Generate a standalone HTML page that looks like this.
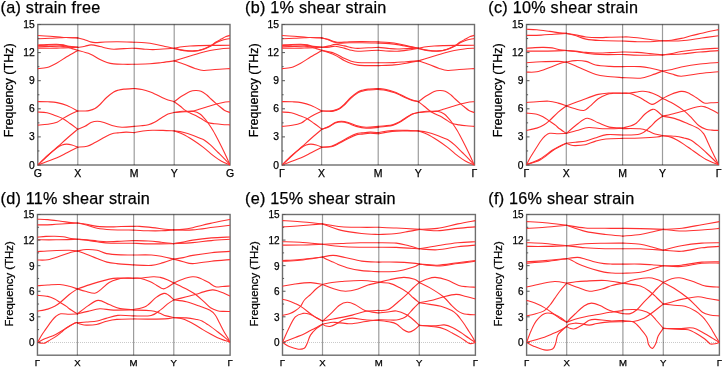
<!DOCTYPE html>
<html><head><meta charset="utf-8"><style>
html,body{margin:0;padding:0;background:#fff;}
svg{display:block;will-change:transform;filter:blur(0.25px);}
text{font-family:"Liberation Sans", sans-serif;fill:#000;stroke:#000;stroke-width:0.25px;}
</style></head><body>
<svg width="725" height="367" viewBox="0 0 725 367">
<rect width="725" height="367" fill="#fff"/>
<clipPath id="cpa"><rect x="37.80" y="23.50" width="192.20" height="142.50"/></clipPath>
<rect x="37.80" y="24.50" width="192.20" height="140.50" fill="none" stroke="#6e6e6e" stroke-width="1.4"/>
<g clip-path="url(#cpa)" fill="none" stroke="#ff3030" stroke-width="1.1" stroke-linejoin="round" stroke-linecap="round">
<path d="M37.80 35.50 C39.83 35.63 46.30 36.03 50.00 36.30 C53.70 36.57 57.33 36.90 60.00 37.10 C62.67 37.30 63.03 37.37 66.00 37.50 C68.97 37.63 75.83 37.83 77.80 37.90"/>
<path d="M37.80 38.80 C39.83 38.72 46.30 38.48 50.00 38.30 C53.70 38.12 57.33 37.83 60.00 37.70 C62.67 37.57 63.03 37.47 66.00 37.50 C68.97 37.53 75.83 37.83 77.80 37.90"/>
<path d="M77.80 38.00 C78.83 38.25 81.97 38.88 84.00 39.50 C86.03 40.12 88.12 41.18 90.00 41.70 C91.88 42.22 92.80 42.55 95.30 42.60 C97.80 42.65 101.22 42.13 105.00 42.00 C108.78 41.87 113.13 41.77 118.00 41.80 C122.87 41.83 131.50 42.13 134.20 42.20"/>
<path d="M134.20 42.20 C136.00 42.30 141.53 42.47 145.00 42.80 C148.47 43.13 151.67 43.58 155.00 44.20 C158.33 44.82 161.80 45.82 165.00 46.50 C168.20 47.18 172.67 48.00 174.20 48.30"/>
<path d="M37.80 45.00 C39.33 44.92 43.85 44.62 47.00 44.50 C50.15 44.38 54.03 44.23 56.70 44.30 C59.37 44.37 60.93 44.55 63.00 44.90 C65.07 45.25 66.63 46.00 69.10 46.40 C71.57 46.80 76.35 47.15 77.80 47.30"/>
<path d="M37.80 45.50 C39.33 45.43 43.85 45.20 47.00 45.10 C50.15 45.00 54.03 44.85 56.70 44.90 C59.37 44.95 60.93 45.08 63.00 45.40 C65.07 45.72 66.63 46.48 69.10 46.80 C71.57 47.12 76.35 47.22 77.80 47.30"/>
<path d="M37.80 46.90 C39.83 46.82 46.30 46.52 50.00 46.40 C53.70 46.28 57.33 46.13 60.00 46.20 C62.67 46.27 64.00 46.40 66.00 46.80 C68.00 47.20 70.03 48.00 72.00 48.60 C73.97 49.20 76.83 50.10 77.80 50.40"/>
<path d="M37.80 48.30 C39.83 48.28 46.30 48.25 50.00 48.20 C53.70 48.15 56.67 48.08 60.00 48.00 C63.33 47.92 67.03 47.82 70.00 47.70 C72.97 47.58 76.50 47.37 77.80 47.30"/>
<path d="M37.80 68.60 C39.33 68.42 43.88 68.40 47.00 67.50 C50.12 66.60 53.22 64.98 56.50 63.20 C59.78 61.42 63.15 58.93 66.70 56.80 C70.25 54.67 75.95 51.47 77.80 50.40"/>
<path d="M77.80 47.40 C79.00 47.20 82.77 46.62 85.00 46.20 C87.23 45.78 88.70 44.85 91.20 44.90 C93.70 44.95 97.37 45.93 100.00 46.50 C102.63 47.07 104.72 47.85 107.00 48.30 C109.28 48.75 110.87 49.15 113.70 49.20 C116.53 49.25 120.58 48.77 124.00 48.60 C127.42 48.43 132.50 48.27 134.20 48.20"/>
<path d="M77.80 50.40 C79.83 51.00 86.30 52.48 90.00 54.00 C93.70 55.52 97.17 58.08 100.00 59.50 C102.83 60.92 104.72 61.77 107.00 62.50 C109.28 63.23 110.87 63.60 113.70 63.90 C116.53 64.20 120.58 64.23 124.00 64.30 C127.42 64.37 132.50 64.30 134.20 64.30"/>
<path d="M134.20 48.20 C136.00 48.37 141.87 48.97 145.00 49.20 C148.13 49.43 150.00 49.63 153.00 49.60 C156.00 49.57 159.47 49.22 163.00 49.00 C166.53 48.78 172.33 48.42 174.20 48.30"/>
<path d="M134.20 64.30 C136.83 64.22 145.37 64.10 150.00 63.80 C154.63 63.50 157.97 62.98 162.00 62.50 C166.03 62.02 172.17 61.17 174.20 60.90"/>
<path d="M174.20 48.40 C175.17 48.17 177.37 47.40 180.00 47.00 C182.63 46.60 186.67 46.23 190.00 46.00 C193.33 45.77 196.50 45.70 200.00 45.60 C203.50 45.50 206.00 45.45 211.00 45.40 C216.00 45.35 226.83 45.32 230.00 45.30"/>
<path d="M174.20 48.40 C175.83 48.72 180.70 49.88 184.00 50.30 C187.30 50.72 190.83 51.08 194.00 50.90 C197.17 50.72 200.17 50.08 203.00 49.20 C205.83 48.32 208.83 46.80 211.00 45.60 C213.17 44.40 214.28 43.08 216.00 42.00 C217.72 40.92 219.63 40.00 221.30 39.10 C222.97 38.20 224.55 37.22 226.00 36.60 C227.45 35.98 229.33 35.60 230.00 35.40"/>
<path d="M174.20 48.40 C175.83 48.77 180.70 50.15 184.00 50.60 C187.30 51.05 190.83 51.30 194.00 51.10 C197.17 50.90 200.17 50.25 203.00 49.40 C205.83 48.55 208.83 47.10 211.00 46.00 C213.17 44.90 214.28 43.70 216.00 42.80 C217.72 41.90 219.63 41.20 221.30 40.60 C222.97 40.00 224.55 39.53 226.00 39.20 C227.45 38.87 229.33 38.70 230.00 38.60"/>
<path d="M174.20 60.90 C175.22 60.58 177.67 59.82 180.30 59.00 C182.93 58.18 186.72 57.00 190.00 56.00 C193.28 55.00 196.67 53.92 200.00 53.00 C203.33 52.08 206.67 51.17 210.00 50.50 C213.33 49.83 216.67 49.38 220.00 49.00 C223.33 48.62 228.33 48.33 230.00 48.20"/>
<path d="M174.20 60.90 C176.00 61.50 181.53 63.23 185.00 64.50 C188.47 65.77 191.90 67.50 195.00 68.50 C198.10 69.50 200.27 70.33 203.60 70.50 C206.93 70.67 210.60 69.82 215.00 69.50 C219.40 69.18 227.50 68.75 230.00 68.60"/>
<path d="M37.80 101.60 C39.50 101.63 44.80 101.63 48.00 101.80 C51.20 101.97 53.83 101.98 57.00 102.60 C60.17 103.22 63.53 104.10 67.00 105.50 C70.47 106.90 76.00 110.08 77.80 111.00"/>
<path d="M37.80 112.00 C39.33 112.13 44.13 112.22 47.00 112.80 C49.87 113.38 52.40 114.53 55.00 115.50 C57.60 116.47 60.10 117.27 62.60 118.60 C65.10 119.93 67.47 121.73 70.00 123.50 C72.53 125.27 76.50 128.25 77.80 129.20"/>
<path d="M37.80 125.10 C39.50 124.97 44.80 124.77 48.00 124.30 C51.20 123.83 54.57 123.25 57.00 122.30 C59.43 121.35 60.43 119.90 62.60 118.60 C64.77 117.30 67.47 115.77 70.00 114.50 C72.53 113.23 76.50 111.58 77.80 111.00"/>
<path d="M37.80 165.00 C39.50 163.42 44.63 158.58 48.00 155.50 C51.37 152.42 54.67 149.50 58.00 146.50 C61.33 143.50 64.70 140.38 68.00 137.50 C71.30 134.62 76.17 130.58 77.80 129.20"/>
<path d="M37.80 165.00 C39.33 163.50 43.90 158.80 47.00 156.00 C50.10 153.20 53.90 150.03 56.40 148.20 C58.90 146.37 60.28 145.68 62.00 145.00 C63.72 144.32 65.03 144.10 66.70 144.10 C68.37 144.10 70.15 144.48 72.00 145.00 C73.85 145.52 76.83 146.83 77.80 147.20"/>
<path d="M37.80 165.00 C39.33 164.42 43.80 162.70 47.00 161.50 C50.20 160.30 53.67 159.25 57.00 157.80 C60.33 156.35 63.53 154.57 67.00 152.80 C70.47 151.03 76.00 148.13 77.80 147.20"/>
<path d="M77.80 111.00 C78.83 111.00 82.13 111.07 84.00 111.00 C85.87 110.93 87.17 111.02 89.00 110.60 C90.83 110.18 93.17 109.52 95.00 108.50 C96.83 107.48 98.07 106.33 100.00 104.50 C101.93 102.67 104.32 99.58 106.60 97.50 C108.88 95.42 111.80 93.22 113.70 92.00 C115.60 90.78 116.30 90.68 118.00 90.20 C119.70 89.72 121.20 89.38 123.90 89.10 C126.60 88.82 132.48 88.60 134.20 88.50"/>
<path d="M77.80 129.20 C79.00 128.72 82.80 127.42 85.00 126.30 C87.20 125.18 88.95 123.35 91.00 122.50 C93.05 121.65 95.13 121.20 97.30 121.20 C99.47 121.20 101.55 121.78 104.00 122.50 C106.45 123.22 109.02 124.72 112.00 125.50 C114.98 126.28 118.20 127.05 121.90 127.20 C125.60 127.35 132.15 126.53 134.20 126.40"/>
<path d="M77.80 147.20 C79.35 147.03 84.23 146.98 87.10 146.20 C89.97 145.42 92.02 144.03 95.00 142.50 C97.98 140.97 102.17 138.45 105.00 137.00 C107.83 135.55 109.87 134.48 112.00 133.80 C114.13 133.12 115.47 133.18 117.80 132.90 C120.13 132.62 123.27 132.15 126.00 132.10 C128.73 132.05 132.83 132.52 134.20 132.60"/>
<path d="M134.20 88.50 C135.50 88.67 139.30 88.92 142.00 89.50 C144.70 90.08 148.07 91.17 150.40 92.00 C152.73 92.83 154.07 93.58 156.00 94.50 C157.93 95.42 160.00 96.58 162.00 97.50 C164.00 98.42 165.97 99.32 168.00 100.00 C170.03 100.68 173.17 101.33 174.20 101.60"/>
<path d="M134.20 126.40 C135.33 126.30 138.63 126.08 141.00 125.80 C143.37 125.52 146.07 125.33 148.40 124.70 C150.73 124.07 152.73 123.20 155.00 122.00 C157.27 120.80 159.83 118.83 162.00 117.50 C164.17 116.17 165.97 114.85 168.00 114.00 C170.03 113.15 173.17 112.67 174.20 112.40"/>
<path d="M134.20 132.60 C135.67 132.33 139.97 131.40 143.00 131.00 C146.03 130.60 149.07 130.30 152.40 130.20 C155.73 130.10 159.37 130.28 163.00 130.40 C166.63 130.52 172.33 130.82 174.20 130.90"/>
<path d="M174.20 101.80 C175.00 101.17 177.42 99.13 179.00 98.00 C180.58 96.87 181.87 96.08 183.70 95.00 C185.53 93.92 188.05 92.25 190.00 91.50 C191.95 90.75 193.57 90.55 195.40 90.50 C197.23 90.45 199.10 90.45 201.00 91.20 C202.90 91.95 205.13 93.70 206.80 95.00 C208.47 96.30 209.43 97.57 211.00 99.00 C212.57 100.43 214.70 102.30 216.20 103.60 C217.70 104.90 218.58 105.67 220.00 106.80 C221.42 107.93 223.03 109.45 224.70 110.40 C226.37 111.35 229.12 112.15 230.00 112.50"/>
<path d="M174.20 101.80 C175.17 102.50 178.13 104.57 180.00 106.00 C181.87 107.43 183.73 109.23 185.40 110.40 C187.07 111.57 188.28 112.15 190.00 113.00 C191.72 113.85 193.87 114.58 195.70 115.50 C197.53 116.42 199.02 117.35 201.00 118.50 C202.98 119.65 205.27 121.52 207.60 122.40 C209.93 123.28 212.60 123.45 215.00 123.80 C217.40 124.15 219.50 124.32 222.00 124.50 C224.50 124.68 228.67 124.83 230.00 124.90"/>
<path d="M174.20 112.50 C175.63 112.30 179.65 111.53 182.80 111.30 C185.95 111.07 190.23 111.48 193.10 111.10 C195.97 110.72 197.52 109.77 200.00 109.00 C202.48 108.23 205.30 107.33 208.00 106.50 C210.70 105.67 213.70 104.67 216.20 104.00 C218.70 103.33 220.70 102.88 223.00 102.50 C225.30 102.12 228.83 101.83 230.00 101.70"/>
<path d="M174.20 112.50 C176.00 112.38 181.70 111.97 185.00 111.80 C188.30 111.63 191.50 111.13 194.00 111.50 C196.50 111.87 198.30 112.90 200.00 114.00 C201.70 115.10 202.92 116.68 204.20 118.10 C205.48 119.52 206.23 120.43 207.70 122.50 C209.17 124.57 211.13 127.33 213.00 130.50 C214.87 133.67 216.97 137.75 218.90 141.50 C220.83 145.25 222.75 149.12 224.60 153.00 C226.45 156.88 229.10 162.83 230.00 164.80"/>
<path d="M174.20 130.90 C175.67 131.13 179.82 131.55 183.00 132.30 C186.18 133.05 190.47 134.42 193.30 135.40 C196.13 136.38 198.08 137.35 200.00 138.20 C201.92 139.05 203.02 139.33 204.80 140.50 C206.58 141.67 208.48 143.20 210.70 145.20 C212.92 147.20 215.88 150.30 218.10 152.50 C220.32 154.70 222.02 156.35 224.00 158.40 C225.98 160.45 229.00 163.73 230.00 164.80"/>
<path d="M174.20 130.90 C175.68 131.45 179.92 132.63 183.10 134.20 C186.28 135.77 189.92 138.10 193.30 140.30 C196.68 142.50 200.50 145.18 203.40 147.40 C206.30 149.62 208.25 151.65 210.70 153.60 C213.15 155.55 215.88 157.62 218.10 159.10 C220.32 160.58 222.02 161.55 224.00 162.50 C225.98 163.45 229.00 164.42 230.00 164.80"/>
</g>
<line x1="77.80" y1="24.50" x2="77.80" y2="165.00" stroke="#9c9c9c" stroke-width="1.2" style="mix-blend-mode:multiply"/>
<line x1="134.20" y1="24.50" x2="134.20" y2="165.00" stroke="#9c9c9c" stroke-width="1.2" style="mix-blend-mode:multiply"/>
<line x1="174.20" y1="24.50" x2="174.20" y2="165.00" stroke="#9c9c9c" stroke-width="1.2" style="mix-blend-mode:multiply"/>
<line x1="37.80" y1="165.00" x2="40.80" y2="165.00" stroke="#555" stroke-width="1"/>
<text x="34.80" y="168.50" font-size="10.3" text-anchor="end">0</text>
<line x1="37.80" y1="150.95" x2="39.40" y2="150.95" stroke="#555" stroke-width="1"/>
<line x1="37.80" y1="136.90" x2="40.80" y2="136.90" stroke="#555" stroke-width="1"/>
<text x="34.80" y="140.40" font-size="10.3" text-anchor="end">3</text>
<line x1="37.80" y1="122.85" x2="39.40" y2="122.85" stroke="#555" stroke-width="1"/>
<line x1="37.80" y1="108.80" x2="40.80" y2="108.80" stroke="#555" stroke-width="1"/>
<text x="34.80" y="112.30" font-size="10.3" text-anchor="end">6</text>
<line x1="37.80" y1="94.75" x2="39.40" y2="94.75" stroke="#555" stroke-width="1"/>
<line x1="37.80" y1="80.70" x2="40.80" y2="80.70" stroke="#555" stroke-width="1"/>
<text x="34.80" y="84.20" font-size="10.3" text-anchor="end">9</text>
<line x1="37.80" y1="66.65" x2="39.40" y2="66.65" stroke="#555" stroke-width="1"/>
<line x1="37.80" y1="52.60" x2="40.80" y2="52.60" stroke="#555" stroke-width="1"/>
<text x="34.80" y="56.10" font-size="10.3" text-anchor="end">12</text>
<line x1="37.80" y1="38.55" x2="39.40" y2="38.55" stroke="#555" stroke-width="1"/>
<line x1="37.80" y1="24.50" x2="40.80" y2="24.50" stroke="#555" stroke-width="1"/>
<text x="34.80" y="28.00" font-size="10.3" text-anchor="end">15</text>
<text x="37.80" y="176.80" font-size="10.5" text-anchor="middle">G</text>
<text x="77.80" y="176.80" font-size="10.5" text-anchor="middle">X</text>
<text x="134.20" y="176.80" font-size="10.5" text-anchor="middle">M</text>
<text x="174.20" y="176.80" font-size="10.5" text-anchor="middle">Y</text>
<text x="230.00" y="176.80" font-size="10.5" text-anchor="middle">G</text>
<text transform="translate(13.30 90.30) rotate(-90)" font-size="12.5" text-anchor="middle">Frequency (THz)</text>
<text x="0.50" y="13.30" font-size="16.2" letter-spacing="0.25">(a) strain free</text>
<clipPath id="cpb"><rect x="282.00" y="23.50" width="192.50" height="142.50"/></clipPath>
<rect x="282.00" y="24.50" width="192.50" height="140.50" fill="none" stroke="#6e6e6e" stroke-width="1.4"/>
<g clip-path="url(#cpb)" fill="none" stroke="#ff3030" stroke-width="1.1" stroke-linejoin="round" stroke-linecap="round">
<path d="M282.00 35.50 C284.03 35.63 290.50 36.03 294.20 36.30 C297.90 36.57 301.53 36.90 304.20 37.10 C306.87 37.30 307.23 37.37 310.20 37.50 C313.17 37.63 320.03 37.83 322.00 37.90"/>
<path d="M282.00 38.80 C284.03 38.72 290.50 38.48 294.20 38.30 C297.90 38.12 301.53 37.83 304.20 37.70 C306.87 37.57 307.23 37.47 310.20 37.50 C313.17 37.53 320.03 37.83 322.00 37.90"/>
<path d="M322.00 38.00 C323.03 38.23 326.17 38.82 328.20 39.40 C330.23 39.98 332.32 41.00 334.20 41.50 C336.08 42.00 337.00 42.37 339.50 42.40 C342.00 42.43 345.42 41.85 349.20 41.70 C352.98 41.55 357.33 41.47 362.20 41.50 C367.07 41.53 375.70 41.83 378.40 41.90"/>
<path d="M378.40 41.90 C380.20 42.00 385.73 42.15 389.20 42.50 C392.67 42.85 395.87 43.35 399.20 44.00 C402.53 44.65 406.00 45.68 409.20 46.40 C412.40 47.12 416.87 47.98 418.40 48.30"/>
<path d="M322.00 38.00 C323.03 38.30 326.17 39.10 328.20 39.80 C330.23 40.50 332.32 41.63 334.20 42.20 C336.08 42.77 337.00 43.10 339.50 43.20 C342.00 43.30 345.42 42.88 349.20 42.80 C352.98 42.72 357.33 42.65 362.20 42.70 C367.07 42.75 375.70 43.03 378.40 43.10"/>
<path d="M378.40 43.10 C380.20 43.18 385.73 43.30 389.20 43.60 C392.67 43.90 395.87 44.35 399.20 44.90 C402.53 45.45 406.00 46.33 409.20 46.90 C412.40 47.47 416.87 48.07 418.40 48.30"/>
<path d="M282.00 45.00 C283.53 44.92 288.05 44.62 291.20 44.50 C294.35 44.38 298.23 44.23 300.90 44.30 C303.57 44.37 305.13 44.55 307.20 44.90 C309.27 45.25 310.83 46.00 313.30 46.40 C315.77 46.80 320.55 47.15 322.00 47.30"/>
<path d="M282.00 45.50 C283.53 45.43 288.05 45.20 291.20 45.10 C294.35 45.00 298.23 44.85 300.90 44.90 C303.57 44.95 305.13 45.08 307.20 45.40 C309.27 45.72 310.83 46.48 313.30 46.80 C315.77 47.12 320.55 47.22 322.00 47.30"/>
<path d="M282.00 46.90 C284.03 46.82 290.50 46.52 294.20 46.40 C297.90 46.28 301.53 46.13 304.20 46.20 C306.87 46.27 308.20 46.40 310.20 46.80 C312.20 47.20 314.23 48.00 316.20 48.60 C318.17 49.20 321.03 50.10 322.00 50.40"/>
<path d="M282.00 48.30 C284.03 48.28 290.50 48.25 294.20 48.20 C297.90 48.15 300.87 48.08 304.20 48.00 C307.53 47.92 311.23 47.82 314.20 47.70 C317.17 47.58 320.70 47.37 322.00 47.30"/>
<path d="M282.00 68.60 C283.53 68.42 288.08 68.40 291.20 67.50 C294.32 66.60 297.42 64.98 300.70 63.20 C303.98 61.42 307.35 58.93 310.90 56.80 C314.45 54.67 320.15 51.47 322.00 50.40"/>
<path d="M322.00 47.40 C323.20 47.15 326.97 46.40 329.20 45.90 C331.43 45.40 332.90 44.40 335.40 44.40 C337.90 44.40 341.57 45.37 344.20 45.90 C346.83 46.43 348.92 47.18 351.20 47.60 C353.48 48.02 355.07 48.37 357.90 48.40 C360.73 48.43 364.78 47.97 368.20 47.80 C371.62 47.63 376.70 47.47 378.40 47.40"/>
<path d="M322.00 47.40 C323.20 47.35 326.97 47.30 329.20 47.10 C331.43 46.90 332.90 46.03 335.40 46.20 C337.90 46.37 341.57 47.43 344.20 48.10 C346.83 48.77 348.92 49.68 351.20 50.20 C353.48 50.72 355.07 51.12 357.90 51.20 C360.73 51.28 364.78 50.85 368.20 50.70 C371.62 50.55 376.70 50.37 378.40 50.30"/>
<path d="M322.00 50.40 C324.03 50.87 330.50 51.88 334.20 53.20 C337.90 54.52 341.37 56.97 344.20 58.30 C347.03 59.63 348.92 60.50 351.20 61.20 C353.48 61.90 355.07 62.23 357.90 62.50 C360.73 62.77 364.78 62.75 368.20 62.80 C371.62 62.85 376.70 62.80 378.40 62.80"/>
<path d="M322.00 50.40 C324.03 51.12 330.50 53.02 334.20 54.70 C337.90 56.38 341.37 59.02 344.20 60.50 C347.03 61.98 348.92 62.83 351.20 63.60 C353.48 64.37 355.07 64.77 357.90 65.10 C360.73 65.43 364.78 65.52 368.20 65.60 C371.62 65.68 376.70 65.60 378.40 65.60"/>
<path d="M378.40 47.40 C380.20 47.58 386.07 48.23 389.20 48.50 C392.33 48.77 394.20 48.98 397.20 49.00 C400.20 49.02 403.67 48.72 407.20 48.60 C410.73 48.48 416.53 48.35 418.40 48.30"/>
<path d="M378.40 50.30 C380.20 50.43 386.07 50.95 389.20 51.10 C392.33 51.25 394.20 51.37 397.20 51.20 C400.20 51.03 403.67 50.58 407.20 50.10 C410.73 49.62 416.53 48.60 418.40 48.30"/>
<path d="M378.40 62.80 C381.03 62.77 389.57 62.78 394.20 62.60 C398.83 62.42 402.17 61.98 406.20 61.70 C410.23 61.42 416.37 61.03 418.40 60.90"/>
<path d="M378.40 65.60 C381.03 65.48 389.57 65.30 394.20 64.90 C398.83 64.50 402.17 63.87 406.20 63.20 C410.23 62.53 416.37 61.28 418.40 60.90"/>
<path d="M418.40 48.40 C419.37 48.17 421.57 47.40 424.20 47.00 C426.83 46.60 430.87 46.23 434.20 46.00 C437.53 45.77 440.70 45.70 444.20 45.60 C447.70 45.50 450.20 45.45 455.20 45.40 C460.20 45.35 471.03 45.32 474.20 45.30"/>
<path d="M418.40 48.40 C420.03 48.72 424.90 49.88 428.20 50.30 C431.50 50.72 435.03 51.08 438.20 50.90 C441.37 50.72 444.37 50.08 447.20 49.20 C450.03 48.32 453.03 46.80 455.20 45.60 C457.37 44.40 458.48 43.08 460.20 42.00 C461.92 40.92 463.83 40.00 465.50 39.10 C467.17 38.20 468.75 37.22 470.20 36.60 C471.65 35.98 473.53 35.60 474.20 35.40"/>
<path d="M418.40 48.40 C420.03 48.77 424.90 50.15 428.20 50.60 C431.50 51.05 435.03 51.30 438.20 51.10 C441.37 50.90 444.37 50.25 447.20 49.40 C450.03 48.55 453.03 47.10 455.20 46.00 C457.37 44.90 458.48 43.70 460.20 42.80 C461.92 41.90 463.83 41.20 465.50 40.60 C467.17 40.00 468.75 39.53 470.20 39.20 C471.65 38.87 473.53 38.70 474.20 38.60"/>
<path d="M418.40 60.90 C419.42 60.58 421.87 59.82 424.50 59.00 C427.13 58.18 430.92 57.00 434.20 56.00 C437.48 55.00 440.87 53.92 444.20 53.00 C447.53 52.08 450.87 51.17 454.20 50.50 C457.53 49.83 460.87 49.38 464.20 49.00 C467.53 48.62 472.53 48.33 474.20 48.20"/>
<path d="M418.40 60.90 C420.20 61.50 425.73 63.23 429.20 64.50 C432.67 65.77 436.10 67.50 439.20 68.50 C442.30 69.50 444.47 70.33 447.80 70.50 C451.13 70.67 454.80 69.82 459.20 69.50 C463.60 69.18 471.70 68.75 474.20 68.60"/>
<path d="M282.00 101.60 C283.70 101.63 289.00 101.63 292.20 101.80 C295.40 101.97 298.03 101.98 301.20 102.60 C304.37 103.22 307.73 104.10 311.20 105.50 C314.67 106.90 320.20 110.08 322.00 111.00"/>
<path d="M282.00 112.00 C283.53 112.13 288.33 112.22 291.20 112.80 C294.07 113.38 296.60 114.53 299.20 115.50 C301.80 116.47 304.30 117.27 306.80 118.60 C309.30 119.93 311.67 121.73 314.20 123.50 C316.73 125.27 320.70 128.25 322.00 129.20"/>
<path d="M282.00 126.40 C283.70 126.22 289.00 125.87 292.20 125.30 C295.40 124.73 298.77 124.03 301.20 123.00 C303.63 121.97 304.63 120.47 306.80 119.10 C308.97 117.73 311.67 116.15 314.20 114.80 C316.73 113.45 320.70 111.63 322.00 111.00"/>
<path d="M282.00 165.00 C283.70 163.42 288.83 158.58 292.20 155.50 C295.57 152.42 298.87 149.50 302.20 146.50 C305.53 143.50 308.90 140.38 312.20 137.50 C315.50 134.62 320.37 130.58 322.00 129.20"/>
<path d="M282.00 165.00 C283.53 163.50 288.10 158.80 291.20 156.00 C294.30 153.20 298.10 150.03 300.60 148.20 C303.10 146.37 304.48 145.68 306.20 145.00 C307.92 144.32 309.23 144.10 310.90 144.10 C312.57 144.10 314.35 144.48 316.20 145.00 C318.05 145.52 321.03 146.83 322.00 147.20"/>
<path d="M282.00 165.00 C283.53 164.42 288.00 162.70 291.20 161.50 C294.40 160.30 297.87 159.25 301.20 157.80 C304.53 156.35 307.73 154.57 311.20 152.80 C314.67 151.03 320.20 148.13 322.00 147.20"/>
<path d="M322.00 111.00 C323.03 111.00 326.33 111.07 328.20 111.00 C330.07 110.93 331.37 111.02 333.20 110.60 C335.03 110.18 337.37 109.52 339.20 108.50 C341.03 107.48 342.27 106.33 344.20 104.50 C346.13 102.67 348.52 99.58 350.80 97.50 C353.08 95.42 356.00 93.22 357.90 92.00 C359.80 90.78 360.50 90.68 362.20 90.20 C363.90 89.72 365.40 89.38 368.10 89.10 C370.80 88.82 376.68 88.60 378.40 88.50"/>
<path d="M322.00 111.00 C323.03 111.05 326.33 111.28 328.20 111.30 C330.07 111.32 331.37 111.47 333.20 111.10 C335.03 110.73 337.37 110.08 339.20 109.10 C341.03 108.12 342.27 107.00 344.20 105.20 C346.13 103.40 348.52 100.35 350.80 98.30 C353.08 96.25 356.00 94.10 357.90 92.90 C359.80 91.70 360.50 91.58 362.20 91.10 C363.90 90.62 365.40 90.28 368.10 90.00 C370.80 89.72 376.68 89.50 378.40 89.40"/>
<path d="M322.00 129.20 C323.20 128.72 327.00 127.42 329.20 126.30 C331.40 125.18 333.15 123.35 335.20 122.50 C337.25 121.65 339.33 121.20 341.50 121.20 C343.67 121.20 345.75 121.78 348.20 122.50 C350.65 123.22 353.22 124.72 356.20 125.50 C359.18 126.28 362.40 127.05 366.10 127.20 C369.80 127.35 376.35 126.53 378.40 126.40"/>
<path d="M322.00 129.20 C323.20 128.78 327.00 127.72 329.20 126.70 C331.40 125.68 333.15 123.90 335.20 123.10 C337.25 122.30 339.33 121.87 341.50 121.90 C343.67 121.93 345.75 122.55 348.20 123.30 C350.65 124.05 353.22 125.58 356.20 126.40 C359.18 127.22 362.40 128.03 366.10 128.20 C369.80 128.37 376.35 127.53 378.40 127.40"/>
<path d="M322.00 147.20 C323.55 147.03 328.43 146.98 331.30 146.20 C334.17 145.42 336.22 144.03 339.20 142.50 C342.18 140.97 346.37 138.45 349.20 137.00 C352.03 135.55 354.07 134.48 356.20 133.80 C358.33 133.12 359.67 133.18 362.00 132.90 C364.33 132.62 367.47 132.15 370.20 132.10 C372.93 132.05 377.03 132.52 378.40 132.60"/>
<path d="M322.00 147.20 C323.55 147.13 328.43 147.45 331.30 146.80 C334.17 146.15 336.22 144.77 339.20 143.30 C342.18 141.83 346.37 139.40 349.20 138.00 C352.03 136.60 354.07 135.55 356.20 134.90 C358.33 134.25 359.67 134.37 362.00 134.10 C364.33 133.83 367.47 133.35 370.20 133.30 C372.93 133.25 377.03 133.72 378.40 133.80"/>
<path d="M378.40 88.50 C379.70 88.67 383.50 88.92 386.20 89.50 C388.90 90.08 392.27 91.17 394.60 92.00 C396.93 92.83 398.27 93.58 400.20 94.50 C402.13 95.42 404.20 96.58 406.20 97.50 C408.20 98.42 410.17 99.32 412.20 100.00 C414.23 100.68 417.37 101.33 418.40 101.60"/>
<path d="M378.40 89.50 C379.70 89.65 383.50 89.85 386.20 90.40 C388.90 90.95 392.27 92.00 394.60 92.80 C396.93 93.60 398.27 94.32 400.20 95.20 C402.13 96.08 404.20 97.23 406.20 98.10 C408.20 98.97 410.17 99.82 412.20 100.40 C414.23 100.98 417.37 101.40 418.40 101.60"/>
<path d="M378.40 126.40 C379.53 126.30 382.83 126.08 385.20 125.80 C387.57 125.52 390.27 125.33 392.60 124.70 C394.93 124.07 396.93 123.20 399.20 122.00 C401.47 120.80 404.03 118.83 406.20 117.50 C408.37 116.17 410.17 114.85 412.20 114.00 C414.23 113.15 417.37 112.67 418.40 112.40"/>
<path d="M378.40 127.20 C379.53 127.08 382.83 126.80 385.20 126.50 C387.57 126.20 390.27 126.05 392.60 125.40 C394.93 124.75 396.93 123.83 399.20 122.60 C401.47 121.37 404.03 119.38 406.20 118.00 C408.37 116.62 410.17 115.23 412.20 114.30 C414.23 113.37 417.37 112.72 418.40 112.40"/>
<path d="M378.40 132.60 C379.87 132.33 384.17 131.40 387.20 131.00 C390.23 130.60 393.27 130.30 396.60 130.20 C399.93 130.10 403.57 130.28 407.20 130.40 C410.83 130.52 416.53 130.82 418.40 130.90"/>
<path d="M378.40 133.80 C379.87 133.52 384.17 132.55 387.20 132.10 C390.23 131.65 393.27 131.28 396.60 131.10 C399.93 130.92 403.57 131.03 407.20 131.00 C410.83 130.97 416.53 130.92 418.40 130.90"/>
<path d="M418.40 101.80 C419.20 101.17 421.62 99.13 423.20 98.00 C424.78 96.87 426.07 96.08 427.90 95.00 C429.73 93.92 432.25 92.25 434.20 91.50 C436.15 90.75 437.77 90.55 439.60 90.50 C441.43 90.45 443.30 90.45 445.20 91.20 C447.10 91.95 449.33 93.70 451.00 95.00 C452.67 96.30 453.63 97.57 455.20 99.00 C456.77 100.43 458.90 102.30 460.40 103.60 C461.90 104.90 462.78 105.67 464.20 106.80 C465.62 107.93 467.23 109.45 468.90 110.40 C470.57 111.35 473.32 112.15 474.20 112.50"/>
<path d="M418.40 101.80 C419.37 102.53 422.33 104.72 424.20 106.20 C426.07 107.68 427.93 109.50 429.60 110.70 C431.27 111.90 432.48 112.50 434.20 113.40 C435.92 114.30 438.07 115.13 439.90 116.10 C441.73 117.07 443.22 118.00 445.20 119.20 C447.18 120.40 449.47 122.35 451.80 123.30 C454.13 124.25 456.80 124.48 459.20 124.90 C461.60 125.32 463.70 125.55 466.20 125.80 C468.70 126.05 472.87 126.30 474.20 126.40"/>
<path d="M418.40 112.50 C419.83 112.30 423.85 111.53 427.00 111.30 C430.15 111.07 434.43 111.48 437.30 111.10 C440.17 110.72 441.72 109.77 444.20 109.00 C446.68 108.23 449.50 107.33 452.20 106.50 C454.90 105.67 457.90 104.67 460.40 104.00 C462.90 103.33 464.90 102.88 467.20 102.50 C469.50 102.12 473.03 101.83 474.20 101.70"/>
<path d="M418.40 112.50 C420.20 112.38 425.90 111.97 429.20 111.80 C432.50 111.63 435.70 111.13 438.20 111.50 C440.70 111.87 442.50 112.90 444.20 114.00 C445.90 115.10 447.12 116.68 448.40 118.10 C449.68 119.52 450.43 120.43 451.90 122.50 C453.37 124.57 455.33 127.33 457.20 130.50 C459.07 133.67 461.17 137.75 463.10 141.50 C465.03 145.25 466.95 149.12 468.80 153.00 C470.65 156.88 473.30 162.83 474.20 164.80"/>
<path d="M418.40 130.90 C419.87 131.13 424.02 131.55 427.20 132.30 C430.38 133.05 434.67 134.42 437.50 135.40 C440.33 136.38 442.28 137.35 444.20 138.20 C446.12 139.05 447.22 139.33 449.00 140.50 C450.78 141.67 452.68 143.20 454.90 145.20 C457.12 147.20 460.08 150.30 462.30 152.50 C464.52 154.70 466.22 156.35 468.20 158.40 C470.18 160.45 473.20 163.73 474.20 164.80"/>
<path d="M418.40 130.90 C419.88 131.45 424.12 132.63 427.30 134.20 C430.48 135.77 434.12 138.10 437.50 140.30 C440.88 142.50 444.70 145.18 447.60 147.40 C450.50 149.62 452.45 151.65 454.90 153.60 C457.35 155.55 460.08 157.62 462.30 159.10 C464.52 160.58 466.22 161.55 468.20 162.50 C470.18 163.45 473.20 164.42 474.20 164.80"/>
</g>
<line x1="321.60" y1="24.50" x2="321.60" y2="165.00" stroke="#9c9c9c" stroke-width="1.2" style="mix-blend-mode:multiply"/>
<line x1="378.20" y1="24.50" x2="378.20" y2="165.00" stroke="#9c9c9c" stroke-width="1.2" style="mix-blend-mode:multiply"/>
<line x1="418.30" y1="24.50" x2="418.30" y2="165.00" stroke="#9c9c9c" stroke-width="1.2" style="mix-blend-mode:multiply"/>
<line x1="282.00" y1="165.00" x2="285.00" y2="165.00" stroke="#555" stroke-width="1"/>
<text x="279.00" y="168.50" font-size="10.3" text-anchor="end">0</text>
<line x1="282.00" y1="150.95" x2="283.60" y2="150.95" stroke="#555" stroke-width="1"/>
<line x1="282.00" y1="136.90" x2="285.00" y2="136.90" stroke="#555" stroke-width="1"/>
<text x="279.00" y="140.40" font-size="10.3" text-anchor="end">3</text>
<line x1="282.00" y1="122.85" x2="283.60" y2="122.85" stroke="#555" stroke-width="1"/>
<line x1="282.00" y1="108.80" x2="285.00" y2="108.80" stroke="#555" stroke-width="1"/>
<text x="279.00" y="112.30" font-size="10.3" text-anchor="end">6</text>
<line x1="282.00" y1="94.75" x2="283.60" y2="94.75" stroke="#555" stroke-width="1"/>
<line x1="282.00" y1="80.70" x2="285.00" y2="80.70" stroke="#555" stroke-width="1"/>
<text x="279.00" y="84.20" font-size="10.3" text-anchor="end">9</text>
<line x1="282.00" y1="66.65" x2="283.60" y2="66.65" stroke="#555" stroke-width="1"/>
<line x1="282.00" y1="52.60" x2="285.00" y2="52.60" stroke="#555" stroke-width="1"/>
<text x="279.00" y="56.10" font-size="10.3" text-anchor="end">12</text>
<line x1="282.00" y1="38.55" x2="283.60" y2="38.55" stroke="#555" stroke-width="1"/>
<line x1="282.00" y1="24.50" x2="285.00" y2="24.50" stroke="#555" stroke-width="1"/>
<text x="279.00" y="28.00" font-size="10.3" text-anchor="end">15</text>
<text x="282.00" y="176.80" font-size="10.5" text-anchor="middle">Γ</text>
<text x="321.60" y="176.80" font-size="10.5" text-anchor="middle">X</text>
<text x="378.20" y="176.80" font-size="10.5" text-anchor="middle">M</text>
<text x="418.30" y="176.80" font-size="10.5" text-anchor="middle">Y</text>
<text x="474.50" y="176.80" font-size="10.5" text-anchor="middle">Γ</text>
<text transform="translate(257.50 90.30) rotate(-90)" font-size="12.5" text-anchor="middle">Frequency (THz)</text>
<text x="245.00" y="13.30" font-size="16.2" letter-spacing="0.25">(b) 1% shear strain</text>
<clipPath id="cpc"><rect x="526.50" y="23.50" width="192.10" height="142.50"/></clipPath>
<rect x="526.50" y="24.50" width="192.10" height="140.50" fill="none" stroke="#6e6e6e" stroke-width="1.4"/>
<g clip-path="url(#cpc)" fill="none" stroke="#ff3030" stroke-width="1.1" stroke-linejoin="round" stroke-linecap="round">
<path d="M526.60 29.30 C528.30 29.37 532.95 29.35 536.80 29.70 C540.65 30.05 545.85 30.87 549.70 31.40 C553.55 31.93 557.13 32.57 559.90 32.90 C562.67 33.23 565.23 33.32 566.30 33.40"/>
<path d="M566.30 33.40 C567.80 33.63 572.02 34.20 575.30 34.80 C578.58 35.40 581.88 36.53 586.00 37.00 C590.12 37.47 596.00 37.57 600.00 37.60 C604.00 37.63 606.23 37.30 610.00 37.20 C613.77 37.10 620.50 37.03 622.60 37.00"/>
<path d="M622.60 37.00 C623.60 37.00 625.47 36.78 628.60 37.00 C631.73 37.22 637.13 37.80 641.40 38.30 C645.67 38.80 650.72 39.58 654.20 40.00 C657.68 40.42 660.95 40.67 662.30 40.80"/>
<path d="M662.30 40.80 C663.80 40.70 668.13 40.60 671.30 40.20 C674.47 39.80 678.02 39.13 681.30 38.40 C684.58 37.67 687.58 36.67 691.00 35.80 C694.42 34.93 698.63 33.97 701.80 33.20 C704.97 32.43 707.20 31.80 710.00 31.20 C712.80 30.60 717.17 29.87 718.60 29.60"/>
<path d="M526.60 35.40 C529.02 35.35 536.55 35.30 541.10 35.10 C545.65 34.90 549.70 34.48 553.90 34.20 C558.10 33.92 564.23 33.53 566.30 33.40"/>
<path d="M566.30 33.40 C567.80 33.75 572.02 34.55 575.30 35.50 C578.58 36.45 581.88 38.27 586.00 39.10 C590.12 39.93 593.90 40.18 600.00 40.50 C606.10 40.82 618.83 40.92 622.60 41.00"/>
<path d="M622.60 41.00 C625.02 41.12 632.53 41.58 637.10 41.70 C641.67 41.82 645.80 41.85 650.00 41.70 C654.20 41.55 660.25 40.95 662.30 40.80"/>
<path d="M662.30 40.80 C665.47 40.80 674.72 41.27 681.30 40.80 C687.88 40.33 695.58 38.85 701.80 38.00 C708.02 37.15 715.80 36.08 718.60 35.70"/>
<path d="M526.60 48.30 C528.00 48.18 532.15 47.75 535.00 47.60 C537.85 47.45 540.83 47.35 543.70 47.40 C546.57 47.45 549.50 47.50 552.20 47.90 C554.90 48.30 557.55 49.37 559.90 49.80 C562.25 50.23 565.23 50.38 566.30 50.50"/>
<path d="M566.30 50.50 C567.80 50.60 572.02 50.78 575.30 51.10 C578.58 51.42 582.62 52.07 586.00 52.40 C589.38 52.73 591.60 53.07 595.60 53.10 C599.60 53.13 605.50 52.78 610.00 52.60 C614.50 52.42 620.50 52.10 622.60 52.00"/>
<path d="M622.60 52.00 C625.02 52.07 632.53 52.13 637.10 52.40 C641.67 52.67 645.80 53.18 650.00 53.60 C654.20 54.02 660.25 54.68 662.30 54.90"/>
<path d="M662.30 54.90 C663.92 54.67 668.83 54.07 672.00 53.50 C675.17 52.93 676.63 52.22 681.30 51.50 C685.97 50.78 693.78 49.75 700.00 49.20 C706.22 48.65 715.50 48.37 718.60 48.20"/>
<path d="M526.60 51.10 C529.67 51.10 538.38 51.20 545.00 51.10 C551.62 51.00 562.75 50.60 566.30 50.50"/>
<path d="M566.30 50.50 C567.80 50.67 572.02 51.05 575.30 51.50 C578.58 51.95 581.88 52.70 586.00 53.20 C590.12 53.70 593.90 54.28 600.00 54.50 C606.10 54.72 618.83 54.50 622.60 54.50"/>
<path d="M622.60 54.50 C625.50 54.62 633.38 55.13 640.00 55.20 C646.62 55.27 658.58 54.95 662.30 54.90"/>
<path d="M662.30 54.90 C665.47 54.75 675.02 54.48 681.30 54.00 C687.58 53.52 693.78 52.57 700.00 52.00 C706.22 51.43 715.50 50.83 718.60 50.60"/>
<path d="M526.60 62.70 C529.02 62.55 535.83 62.02 541.10 61.80 C546.37 61.58 554.00 61.35 558.20 61.40 C562.40 61.45 564.95 61.98 566.30 62.10"/>
<path d="M566.30 62.10 C567.80 61.85 572.02 60.72 575.30 60.60 C578.58 60.48 582.62 60.67 586.00 61.40 C589.38 62.13 591.60 64.17 595.60 65.00 C599.60 65.83 605.50 66.13 610.00 66.40 C614.50 66.67 620.50 66.57 622.60 66.60"/>
<path d="M622.60 66.60 C625.57 66.60 635.50 66.28 640.40 66.60 C645.30 66.92 648.32 67.75 652.00 68.50 C655.68 69.25 660.75 70.67 662.50 71.10"/>
<path d="M662.50 71.10 C664.08 70.83 668.87 70.18 672.00 69.50 C675.13 68.82 676.63 67.92 681.30 67.00 C685.97 66.08 693.78 64.75 700.00 64.00 C706.22 63.25 715.50 62.75 718.60 62.50"/>
<path d="M526.60 72.10 C528.30 72.05 532.95 72.58 536.80 71.80 C540.65 71.02 545.85 68.78 549.70 67.40 C553.55 66.02 557.13 64.38 559.90 63.50 C562.67 62.62 565.23 62.33 566.30 62.10"/>
<path d="M566.30 62.10 C567.80 62.70 572.02 64.28 575.30 65.70 C578.58 67.12 582.55 69.13 586.00 70.60 C589.45 72.07 592.70 73.57 596.00 74.50 C599.30 75.43 601.37 75.68 605.80 76.20 C610.23 76.72 619.80 77.37 622.60 77.60"/>
<path d="M622.60 77.60 C625.57 77.70 635.50 78.63 640.40 78.20 C645.30 77.77 648.32 76.18 652.00 75.00 C655.68 73.82 660.75 71.75 662.50 71.10"/>
<path d="M662.50 71.10 C664.08 71.58 668.87 73.15 672.00 74.00 C675.13 74.85 676.63 76.28 681.30 76.20 C685.97 76.12 693.78 74.25 700.00 73.50 C706.22 72.75 715.50 72.00 718.60 71.70"/>
<path d="M526.60 102.50 C528.30 102.37 533.10 101.92 536.80 101.70 C540.50 101.48 545.23 100.97 548.80 101.20 C552.37 101.43 555.28 102.32 558.20 103.10 C561.12 103.88 564.95 105.43 566.30 105.90"/>
<path d="M566.30 105.90 C568.77 104.98 575.78 102.32 581.10 100.40 C586.42 98.48 593.63 95.62 598.20 94.40 C602.77 93.18 604.43 93.30 608.50 93.10 C612.57 92.90 620.25 93.18 622.60 93.20"/>
<path d="M622.60 93.20 C623.67 93.20 625.75 93.52 629.00 93.20 C632.25 92.88 638.77 91.48 642.10 91.30 C645.43 91.12 646.58 91.50 649.00 92.10 C651.42 92.70 654.32 93.85 656.60 94.90 C658.88 95.95 661.68 97.82 662.70 98.40"/>
<path d="M566.30 105.90 C567.63 106.33 571.40 107.73 574.30 108.50 C577.20 109.27 581.13 110.85 583.70 110.50 C586.27 110.15 587.28 108.37 589.70 106.40 C592.12 104.43 595.35 100.70 598.20 98.70 C601.05 96.70 604.23 95.30 606.80 94.40 C609.37 93.50 610.97 93.50 613.60 93.30 C616.23 93.10 621.10 93.22 622.60 93.20"/>
<path d="M622.60 93.20 C623.67 93.20 626.32 92.57 629.00 93.20 C631.68 93.83 635.93 95.68 638.70 97.00 C641.47 98.32 643.42 99.87 645.60 101.10 C647.78 102.33 649.97 104.17 651.80 104.40 C653.63 104.63 654.78 103.50 656.60 102.50 C658.42 101.50 661.68 99.08 662.70 98.40"/>
<path d="M662.70 98.40 C664.05 97.73 667.73 95.57 670.80 94.40 C673.87 93.23 678.25 91.68 681.10 91.40 C683.95 91.12 685.33 91.63 687.90 92.70 C690.47 93.77 693.78 96.08 696.50 97.80 C699.22 99.52 701.78 102.17 704.20 103.00 C706.62 103.83 708.65 102.88 711.00 102.80 C713.35 102.72 717.08 102.55 718.30 102.50"/>
<path d="M662.70 98.40 C664.77 99.45 671.47 102.58 675.10 104.70 C678.73 106.82 681.65 108.78 684.50 111.10 C687.35 113.42 689.77 116.15 692.20 118.60 C694.63 121.05 696.82 124.03 699.10 125.80 C701.38 127.57 703.75 128.48 705.90 129.20 C708.05 129.92 709.93 129.90 712.00 130.10 C714.07 130.30 717.25 130.35 718.30 130.40"/>
<path d="M662.70 116.20 C664.77 115.70 671.47 114.12 675.10 113.20 C678.73 112.28 681.68 111.53 684.50 110.70 C687.32 109.87 689.28 108.95 692.00 108.20 C694.72 107.45 698.48 106.37 700.80 106.20 C703.12 106.03 704.03 106.57 705.90 107.20 C707.77 107.83 709.93 108.98 712.00 110.00 C714.07 111.02 717.25 112.75 718.30 113.30"/>
<path d="M662.70 116.20 C664.77 116.60 670.88 117.35 675.10 118.60 C679.32 119.85 684.15 122.07 688.00 123.70 C691.85 125.33 695.57 126.70 698.20 128.40 C700.83 130.10 702.18 131.55 703.80 133.90 C705.42 136.25 706.53 139.60 707.90 142.50 C709.27 145.40 710.63 148.47 712.00 151.30 C713.37 154.13 715.05 157.30 716.10 159.50 C717.15 161.70 717.93 163.67 718.30 164.50"/>
<path d="M662.70 135.70 C664.77 135.80 671.55 135.92 675.10 136.30 C678.65 136.68 681.42 137.38 684.00 138.00 C686.58 138.62 688.15 138.68 690.60 140.00 C693.05 141.32 696.12 143.82 698.70 145.90 C701.28 147.98 703.63 150.23 706.10 152.50 C708.57 154.77 711.47 157.50 713.50 159.50 C715.53 161.50 717.50 163.67 718.30 164.50"/>
<path d="M662.70 135.70 C664.05 135.93 668.42 136.38 670.80 137.10 C673.18 137.82 674.80 138.78 677.00 140.00 C679.20 141.22 681.60 142.80 684.00 144.40 C686.40 146.00 688.95 147.88 691.40 149.60 C693.85 151.32 696.25 153.05 698.70 154.70 C701.15 156.35 703.63 158.15 706.10 159.50 C708.57 160.85 711.47 161.97 713.50 162.80 C715.53 163.63 717.50 164.22 718.30 164.50"/>
<path d="M526.60 113.10 C528.30 113.28 533.95 113.52 536.80 114.20 C539.65 114.88 541.63 116.08 543.70 117.20 C545.77 118.32 547.20 119.53 549.20 120.90 C551.20 122.27 554.20 124.27 555.70 125.40 C557.20 126.53 556.43 126.35 558.20 127.70 C559.97 129.05 564.95 132.53 566.30 133.50"/>
<path d="M526.60 130.40 C528.30 130.02 533.95 128.98 536.80 128.10 C539.65 127.22 541.63 126.30 543.70 125.10 C545.77 123.90 546.78 123.07 549.20 120.90 C551.62 118.73 555.35 114.60 558.20 112.10 C561.05 109.60 564.95 106.93 566.30 105.90"/>
<path d="M526.60 164.60 C527.17 163.50 528.72 160.27 530.00 158.00 C531.28 155.73 532.45 153.92 534.30 151.00 C536.15 148.08 539.32 143.00 541.10 140.50 C542.88 138.00 543.57 137.20 545.00 136.00 C546.43 134.80 547.50 133.68 549.70 133.30 C551.90 132.92 555.43 133.67 558.20 133.70 C560.97 133.73 564.95 133.53 566.30 133.50"/>
<path d="M526.60 164.60 C528.83 163.83 535.73 162.27 540.00 160.00 C544.27 157.73 548.87 153.25 552.20 151.00 C555.53 148.75 557.65 147.78 560.00 146.50 C562.35 145.22 565.25 143.83 566.30 143.30"/>
<path d="M526.60 164.60 C528.83 163.67 535.73 161.38 540.00 159.00 C544.27 156.62 548.87 152.47 552.20 150.30 C555.53 148.13 557.65 147.17 560.00 146.00 C562.35 144.83 565.25 143.75 566.30 143.30"/>
<path d="M566.30 133.40 C568.05 131.92 573.33 127.02 576.80 124.50 C580.27 121.98 583.53 118.58 587.10 118.30 C590.67 118.02 594.50 121.33 598.20 122.80 C601.90 124.27 605.23 126.23 609.30 127.10 C613.37 127.97 620.38 127.85 622.60 128.00"/>
<path d="M566.30 133.40 C568.05 132.92 573.05 131.48 576.80 130.50 C580.55 129.52 584.52 127.78 588.80 127.50 C593.08 127.22 596.87 128.65 602.50 128.80 C608.13 128.95 619.25 128.47 622.60 128.40"/>
<path d="M566.30 143.30 C567.80 143.12 572.02 142.58 575.30 142.20 C578.58 141.82 582.72 141.70 586.00 141.00 C589.28 140.30 591.53 139.07 595.00 138.00 C598.47 136.93 602.20 135.10 606.80 134.60 C611.40 134.10 619.97 134.93 622.60 135.00"/>
<path d="M566.30 143.30 C566.92 143.55 568.53 144.42 570.00 144.80 C571.47 145.18 572.55 145.60 575.10 145.60 C577.65 145.60 581.88 145.55 585.30 144.80 C588.72 144.05 592.18 142.07 595.60 141.10 C599.02 140.13 601.30 139.45 605.80 139.00 C610.30 138.55 619.80 138.50 622.60 138.40"/>
<path d="M622.60 128.00 C624.67 127.33 631.27 126.33 635.00 124.00 C638.73 121.67 642.05 116.43 645.00 114.00 C647.95 111.57 650.70 109.90 652.70 109.40 C654.70 108.90 655.33 109.87 657.00 111.00 C658.67 112.13 661.75 115.33 662.70 116.20"/>
<path d="M622.60 128.60 C625.50 128.63 635.77 128.40 640.00 128.80 C644.23 129.20 645.50 130.13 648.00 131.00 C650.50 131.87 652.55 133.23 655.00 134.00 C657.45 134.77 661.42 135.33 662.70 135.60"/>
<path d="M622.60 135.00 C625.50 134.83 635.43 135.33 640.00 134.00 C644.57 132.67 647.33 129.17 650.00 127.00 C652.67 124.83 653.88 122.80 656.00 121.00 C658.12 119.20 661.58 117.00 662.70 116.20"/>
<path d="M622.60 138.30 C625.57 138.25 634.70 138.22 640.40 138.00 C646.10 137.78 653.08 137.40 656.80 137.00 C660.52 136.60 661.72 135.83 662.70 135.60"/>
</g>
<line x1="566.30" y1="24.50" x2="566.30" y2="165.00" stroke="#9c9c9c" stroke-width="1.2" style="mix-blend-mode:multiply"/>
<line x1="622.60" y1="24.50" x2="622.60" y2="165.00" stroke="#9c9c9c" stroke-width="1.2" style="mix-blend-mode:multiply"/>
<line x1="662.50" y1="24.50" x2="662.50" y2="165.00" stroke="#9c9c9c" stroke-width="1.2" style="mix-blend-mode:multiply"/>
<line x1="526.50" y1="165.00" x2="529.50" y2="165.00" stroke="#555" stroke-width="1"/>
<text x="523.50" y="168.50" font-size="10.3" text-anchor="end">0</text>
<line x1="526.50" y1="150.95" x2="528.10" y2="150.95" stroke="#555" stroke-width="1"/>
<line x1="526.50" y1="136.90" x2="529.50" y2="136.90" stroke="#555" stroke-width="1"/>
<text x="523.50" y="140.40" font-size="10.3" text-anchor="end">3</text>
<line x1="526.50" y1="122.85" x2="528.10" y2="122.85" stroke="#555" stroke-width="1"/>
<line x1="526.50" y1="108.80" x2="529.50" y2="108.80" stroke="#555" stroke-width="1"/>
<text x="523.50" y="112.30" font-size="10.3" text-anchor="end">6</text>
<line x1="526.50" y1="94.75" x2="528.10" y2="94.75" stroke="#555" stroke-width="1"/>
<line x1="526.50" y1="80.70" x2="529.50" y2="80.70" stroke="#555" stroke-width="1"/>
<text x="523.50" y="84.20" font-size="10.3" text-anchor="end">9</text>
<line x1="526.50" y1="66.65" x2="528.10" y2="66.65" stroke="#555" stroke-width="1"/>
<line x1="526.50" y1="52.60" x2="529.50" y2="52.60" stroke="#555" stroke-width="1"/>
<text x="523.50" y="56.10" font-size="10.3" text-anchor="end">12</text>
<line x1="526.50" y1="38.55" x2="528.10" y2="38.55" stroke="#555" stroke-width="1"/>
<line x1="526.50" y1="24.50" x2="529.50" y2="24.50" stroke="#555" stroke-width="1"/>
<text x="523.50" y="28.00" font-size="10.3" text-anchor="end">15</text>
<text x="526.50" y="176.80" font-size="10.5" text-anchor="middle">Γ</text>
<text x="566.30" y="176.80" font-size="10.5" text-anchor="middle">X</text>
<text x="622.60" y="176.80" font-size="10.5" text-anchor="middle">M</text>
<text x="662.50" y="176.80" font-size="10.5" text-anchor="middle">Y</text>
<text x="718.60" y="176.80" font-size="10.5" text-anchor="middle">Γ</text>
<text transform="translate(502.00 90.30) rotate(-90)" font-size="12.5" text-anchor="middle">Frequency (THz)</text>
<text x="488.30" y="13.30" font-size="16.2" letter-spacing="0.25">(c) 10% shear strain</text>
<clipPath id="cpd"><rect x="37.45" y="213.50" width="192.65" height="142.70"/></clipPath>
<line x1="38" y1="342.5" x2="230" y2="342.5" stroke="#cacaca" stroke-width="1" stroke-dasharray="1 1"/>
<rect x="37.45" y="214.50" width="192.65" height="140.70" fill="none" stroke="#6e6e6e" stroke-width="1.4"/>
<g clip-path="url(#cpd)" fill="none" stroke="#ff3030" stroke-width="1.1" stroke-linejoin="round" stroke-linecap="round">
<path d="M37.60 219.20 C39.30 219.27 43.95 219.27 47.80 219.60 C51.65 219.93 56.83 220.70 60.70 221.20 C64.57 221.70 68.22 222.30 71.00 222.60 C73.78 222.90 76.33 222.93 77.40 223.00"/>
<path d="M77.40 223.00 C78.90 223.22 83.12 223.73 86.40 224.30 C89.68 224.87 93.00 225.97 97.10 226.40 C101.20 226.83 107.02 226.88 111.00 226.90 C114.98 226.92 117.23 226.58 121.00 226.50 C124.77 226.42 131.50 226.42 133.60 226.40"/>
<path d="M133.60 226.40 C134.60 226.40 136.45 226.20 139.60 226.40 C142.75 226.60 148.20 227.13 152.50 227.60 C156.80 228.07 161.88 228.82 165.40 229.20 C168.92 229.58 172.23 229.78 173.60 229.90"/>
<path d="M173.60 229.90 C175.10 229.82 179.42 229.77 182.60 229.40 C185.78 229.03 189.40 228.40 192.70 227.70 C196.00 227.00 198.98 226.02 202.40 225.20 C205.82 224.38 210.02 223.50 213.20 222.80 C216.38 222.10 218.68 221.55 221.50 221.00 C224.32 220.45 228.67 219.75 230.10 219.50"/>
<path d="M37.60 224.90 C40.02 224.85 47.53 224.78 52.10 224.60 C56.67 224.42 60.78 224.07 65.00 223.80 C69.22 223.53 75.33 223.13 77.40 223.00"/>
<path d="M77.40 223.00 C78.90 223.33 83.12 224.12 86.40 225.00 C89.68 225.88 93.00 227.52 97.10 228.30 C101.20 229.08 104.92 229.40 111.00 229.70 C117.08 230.00 129.83 230.03 133.60 230.10"/>
<path d="M133.60 230.10 C136.03 230.22 143.60 230.68 148.20 230.80 C152.80 230.92 156.97 230.95 161.20 230.80 C165.43 230.65 171.53 230.05 173.60 229.90"/>
<path d="M173.60 229.90 C176.78 229.90 186.10 230.33 192.70 229.90 C199.30 229.47 206.97 228.08 213.20 227.30 C219.43 226.52 227.28 225.55 230.10 225.20"/>
<path d="M37.60 237.10 C39.00 236.98 43.15 236.55 46.00 236.40 C48.85 236.25 51.83 236.15 54.70 236.20 C57.57 236.25 60.48 236.32 63.20 236.70 C65.92 237.08 68.63 238.08 71.00 238.50 C73.37 238.92 76.33 239.08 77.40 239.20"/>
<path d="M77.40 239.20 C78.90 239.30 83.12 239.50 86.40 239.80 C89.68 240.10 93.73 240.68 97.10 241.00 C100.47 241.32 102.62 241.67 106.60 241.70 C110.58 241.73 116.50 241.38 121.00 241.20 C125.50 241.02 131.50 240.70 133.60 240.60"/>
<path d="M133.60 240.60 C136.03 240.67 143.60 240.73 148.20 241.00 C152.80 241.27 156.97 241.77 161.20 242.20 C165.43 242.63 171.53 243.37 173.60 243.60"/>
<path d="M173.60 243.60 C175.22 243.35 180.12 242.68 183.30 242.10 C186.48 241.52 188.02 240.80 192.70 240.10 C197.38 239.40 205.17 238.42 211.40 237.90 C217.63 237.38 226.98 237.15 230.10 237.00"/>
<path d="M37.60 239.80 C40.67 239.80 49.37 239.90 56.00 239.80 C62.63 239.70 73.83 239.30 77.40 239.20"/>
<path d="M77.40 239.20 C78.90 239.35 83.12 239.67 86.40 240.10 C89.68 240.53 93.00 241.28 97.10 241.80 C101.20 242.32 104.92 242.97 111.00 243.20 C117.08 243.43 129.83 243.20 133.60 243.20"/>
<path d="M133.60 243.20 C136.52 243.32 144.43 243.83 151.10 243.90 C157.77 243.97 169.85 243.65 173.60 243.60"/>
<path d="M173.60 243.60 C176.78 243.43 186.40 243.10 192.70 242.60 C199.00 242.10 205.17 241.15 211.40 240.60 C217.63 240.05 226.98 239.52 230.10 239.30"/>
<path d="M37.60 251.60 C40.02 251.45 46.82 250.92 52.10 250.70 C57.38 250.48 65.08 250.25 69.30 250.30 C73.52 250.35 76.05 250.88 77.40 251.00"/>
<path d="M77.40 251.00 C78.90 250.75 83.12 249.62 86.40 249.50 C89.68 249.38 93.73 249.62 97.10 250.30 C100.47 250.98 102.62 252.83 106.60 253.60 C110.58 254.37 116.50 254.67 121.00 254.90 C125.50 255.13 131.50 254.98 133.60 255.00"/>
<path d="M133.60 255.00 C136.58 255.00 146.57 254.72 151.50 255.00 C156.43 255.28 159.48 256.02 163.20 256.70 C166.92 257.38 172.03 258.70 173.80 259.10"/>
<path d="M173.80 259.10 C175.38 258.85 180.15 258.22 183.30 257.60 C186.45 256.98 188.02 256.22 192.70 255.40 C197.38 254.58 205.17 253.37 211.40 252.70 C217.63 252.03 226.98 251.62 230.10 251.40"/>
<path d="M37.60 260.00 C39.30 259.95 43.95 260.40 47.80 259.70 C51.65 259.00 56.83 257.03 60.70 255.80 C64.57 254.57 68.22 253.10 71.00 252.30 C73.78 251.50 76.33 251.22 77.40 251.00"/>
<path d="M77.40 251.00 C78.90 251.53 83.12 252.93 86.40 254.20 C89.68 255.47 93.67 257.28 97.10 258.60 C100.53 259.92 103.72 261.27 107.00 262.10 C110.28 262.93 112.37 263.13 116.80 263.60 C121.23 264.07 130.80 264.68 133.60 264.90"/>
<path d="M133.60 264.90 C136.58 264.98 146.57 265.78 151.50 265.40 C156.43 265.02 159.48 263.65 163.20 262.60 C166.92 261.55 172.03 259.68 173.80 259.10"/>
<path d="M173.80 259.10 C175.38 259.53 180.15 260.95 183.30 261.70 C186.45 262.45 188.02 263.68 192.70 263.60 C197.38 263.52 205.17 261.87 211.40 261.20 C217.63 260.53 226.98 259.87 230.10 259.60"/>
<path d="M37.60 285.70 C39.30 285.58 44.10 285.20 47.80 285.00 C51.50 284.80 56.22 284.28 59.80 284.50 C63.38 284.72 66.37 285.57 69.30 286.30 C72.23 287.03 76.05 288.47 77.40 288.90"/>
<path d="M77.40 288.90 C79.87 288.07 86.90 285.53 92.20 283.90 C97.50 282.27 104.65 280.07 109.20 279.10 C113.75 278.13 115.43 278.25 119.50 278.10 C123.57 277.95 131.25 278.18 133.60 278.20"/>
<path d="M133.60 278.20 C134.67 278.20 136.73 278.45 140.00 278.20 C143.27 277.95 149.83 276.83 153.20 276.70 C156.57 276.57 157.75 276.87 160.20 277.40 C162.65 277.93 165.60 278.97 167.90 279.90 C170.20 280.83 172.98 282.48 174.00 283.00"/>
<path d="M77.40 288.90 C78.73 289.30 82.50 290.58 85.40 291.30 C88.30 292.02 92.23 293.48 94.80 293.20 C97.37 292.92 98.40 291.38 100.80 289.60 C103.20 287.82 106.37 284.25 109.20 282.50 C112.03 280.75 115.23 279.82 117.80 279.10 C120.37 278.38 121.97 278.35 124.60 278.20 C127.23 278.05 132.10 278.20 133.60 278.20"/>
<path d="M133.60 278.20 C134.67 278.20 137.30 277.65 140.00 278.20 C142.70 278.75 147.00 280.30 149.80 281.50 C152.60 282.70 154.60 284.18 156.80 285.40 C159.00 286.62 161.15 288.53 163.00 288.80 C164.85 289.07 166.07 287.97 167.90 287.00 C169.73 286.03 172.98 283.67 174.00 283.00"/>
<path d="M174.00 283.00 C175.35 282.40 179.02 280.43 182.10 279.40 C185.18 278.37 189.63 277.05 192.50 276.80 C195.37 276.55 196.73 277.02 199.30 277.90 C201.87 278.78 205.18 280.62 207.90 282.10 C210.62 283.58 213.17 286.07 215.60 286.80 C218.03 287.53 220.13 286.63 222.50 286.50 C224.87 286.37 228.58 286.08 229.80 286.00"/>
<path d="M174.00 283.00 C176.07 284.02 182.75 287.15 186.40 289.10 C190.05 291.05 193.03 292.65 195.90 294.70 C198.77 296.75 201.17 299.22 203.60 301.40 C206.03 303.58 208.20 306.25 210.50 307.80 C212.80 309.35 215.23 310.10 217.40 310.70 C219.57 311.30 221.43 311.27 223.50 311.40 C225.57 311.53 228.75 311.48 229.80 311.50"/>
<path d="M174.00 299.80 C176.07 299.30 182.75 297.72 186.40 296.80 C190.05 295.88 193.07 295.12 195.90 294.30 C198.73 293.48 200.68 292.63 203.40 291.90 C206.12 291.17 209.87 290.10 212.20 289.90 C214.53 289.70 215.52 290.17 217.40 290.70 C219.28 291.23 221.43 292.23 223.50 293.10 C225.57 293.97 228.75 295.43 229.80 295.90"/>
<path d="M174.00 299.80 C176.07 300.12 182.17 300.65 186.40 301.70 C190.63 302.75 195.53 304.70 199.40 306.10 C203.27 307.50 206.97 308.62 209.60 310.10 C212.23 311.58 213.57 312.88 215.20 315.00 C216.83 317.12 218.02 320.18 219.40 322.80 C220.78 325.42 222.13 328.23 223.50 330.70 C224.87 333.17 226.55 335.72 227.60 337.60 C228.65 339.48 229.43 341.27 229.80 342.00"/>
<path d="M174.00 317.60 C176.07 317.65 182.83 317.63 186.40 317.90 C189.97 318.17 192.80 318.70 195.40 319.20 C198.00 319.70 199.55 319.75 202.00 320.90 C204.45 322.05 207.50 324.28 210.10 326.10 C212.70 327.92 215.12 329.87 217.60 331.80 C220.08 333.73 222.97 336.00 225.00 337.70 C227.03 339.40 229.00 341.28 229.80 342.00"/>
<path d="M174.00 317.60 C175.35 317.78 179.70 318.10 182.10 318.70 C184.50 319.30 186.18 320.15 188.40 321.20 C190.62 322.25 193.00 323.60 195.40 325.00 C197.80 326.40 200.35 328.13 202.80 329.60 C205.25 331.07 207.63 332.45 210.10 333.80 C212.57 335.15 215.12 336.58 217.60 337.70 C220.08 338.82 222.97 339.78 225.00 340.50 C227.03 341.22 229.00 341.75 229.80 342.00"/>
<path d="M37.60 295.40 C39.30 295.57 44.95 295.78 47.80 296.40 C50.65 297.02 52.63 298.08 54.70 299.10 C56.77 300.12 58.18 301.25 60.20 302.50 C62.22 303.75 65.28 305.57 66.80 306.60 C68.32 307.63 67.53 307.47 69.30 308.70 C71.07 309.93 76.05 313.12 77.40 314.00"/>
<path d="M37.60 311.20 C39.30 310.85 44.95 309.92 47.80 309.10 C50.65 308.28 52.63 307.40 54.70 306.30 C56.77 305.20 57.77 304.47 60.20 302.50 C62.63 300.53 66.43 296.77 69.30 294.50 C72.17 292.23 76.05 289.83 77.40 288.90"/>
<path d="M37.60 342.40 C38.17 341.37 39.72 338.28 41.00 336.20 C42.28 334.12 43.45 332.53 45.30 329.90 C47.15 327.27 50.32 322.67 52.10 320.40 C53.88 318.13 54.57 317.40 56.00 316.30 C57.43 315.20 58.48 314.15 60.70 313.80 C62.92 313.45 66.52 314.17 69.30 314.20 C72.08 314.23 76.05 314.03 77.40 314.00"/>
<path d="M37.50 342.40 C38.00 342.52 39.30 342.98 40.50 343.10 C41.70 343.22 43.32 343.50 44.70 343.10 C46.08 342.70 46.97 341.78 48.80 340.70 C50.63 339.62 53.63 337.98 55.70 336.60 C57.77 335.22 59.48 333.78 61.20 332.40 C62.92 331.02 63.70 329.85 66.00 328.30 C68.30 326.75 73.10 324.05 75.00 323.10 C76.90 322.15 77.00 322.68 77.40 322.60"/>
<path d="M37.50 342.40 C38.80 341.77 42.27 339.92 45.30 338.60 C48.33 337.28 52.25 336.22 55.70 334.50 C59.15 332.78 62.78 330.20 66.00 328.30 C69.22 326.40 73.10 324.05 75.00 323.10 C76.90 322.15 77.00 322.68 77.40 322.60"/>
<path d="M77.40 313.90 C79.15 312.57 84.43 308.15 87.90 305.90 C91.37 303.65 94.65 300.62 98.20 300.40 C101.75 300.18 105.52 303.23 109.20 304.60 C112.88 305.97 116.23 307.77 120.30 308.60 C124.37 309.43 131.38 309.43 133.60 309.60"/>
<path d="M77.40 313.90 C79.15 313.48 84.15 312.25 87.90 311.40 C91.65 310.55 95.63 309.02 99.90 308.80 C104.17 308.58 107.88 309.92 113.50 310.10 C119.12 310.28 130.25 309.93 133.60 309.90"/>
<path d="M77.40 322.90 C78.90 322.75 83.12 322.32 86.40 322.00 C89.68 321.68 93.83 321.60 97.10 321.00 C100.37 320.40 102.55 319.33 106.00 318.40 C109.45 317.47 113.20 315.82 117.80 315.40 C122.40 314.98 130.97 315.82 133.60 315.90"/>
<path d="M77.40 322.90 C78.02 323.13 79.63 323.93 81.10 324.30 C82.57 324.67 83.65 325.07 86.20 325.10 C88.75 325.13 93.00 325.15 96.40 324.50 C99.80 323.85 103.20 322.05 106.60 321.20 C110.00 320.35 112.30 319.77 116.80 319.40 C121.30 319.03 130.80 319.07 133.60 319.00"/>
<path d="M133.60 309.60 C135.68 309.03 142.33 308.23 146.10 306.20 C149.87 304.17 153.23 299.53 156.20 297.40 C159.17 295.27 161.88 293.80 163.90 293.40 C165.92 293.00 166.62 293.93 168.30 295.00 C169.98 296.07 173.05 299.00 174.00 299.80"/>
<path d="M133.60 310.10 C136.52 310.20 146.83 310.22 151.10 310.70 C155.37 311.18 156.68 312.13 159.20 313.00 C161.72 313.87 163.73 315.15 166.20 315.90 C168.67 316.65 172.70 317.23 174.00 317.50"/>
<path d="M133.60 315.90 C136.52 315.83 146.50 316.58 151.10 315.50 C155.70 314.42 158.50 311.30 161.20 309.40 C163.90 307.50 165.17 305.70 167.30 304.10 C169.43 302.50 172.88 300.52 174.00 299.80"/>
<path d="M133.60 318.90 C136.58 318.93 145.75 319.15 151.50 319.10 C157.25 319.05 164.35 318.87 168.10 318.60 C171.85 318.33 173.02 317.68 174.00 317.50"/>
</g>
<line x1="77.40" y1="214.50" x2="77.40" y2="355.20" stroke="#9c9c9c" stroke-width="1.2" style="mix-blend-mode:multiply"/>
<line x1="133.60" y1="214.50" x2="133.60" y2="355.20" stroke="#9c9c9c" stroke-width="1.2" style="mix-blend-mode:multiply"/>
<line x1="173.80" y1="214.50" x2="173.80" y2="355.20" stroke="#9c9c9c" stroke-width="1.2" style="mix-blend-mode:multiply"/>
<line x1="37.45" y1="342.40" x2="40.45" y2="342.40" stroke="#555" stroke-width="1"/>
<text x="34.45" y="346.30" font-size="10.0" text-anchor="end">0</text>
<line x1="37.45" y1="329.61" x2="39.05" y2="329.61" stroke="#555" stroke-width="1"/>
<line x1="37.45" y1="316.82" x2="40.45" y2="316.82" stroke="#555" stroke-width="1"/>
<text x="34.45" y="320.72" font-size="10.0" text-anchor="end">3</text>
<line x1="37.45" y1="304.03" x2="39.05" y2="304.03" stroke="#555" stroke-width="1"/>
<line x1="37.45" y1="291.24" x2="40.45" y2="291.24" stroke="#555" stroke-width="1"/>
<text x="34.45" y="295.14" font-size="10.0" text-anchor="end">6</text>
<line x1="37.45" y1="278.45" x2="39.05" y2="278.45" stroke="#555" stroke-width="1"/>
<line x1="37.45" y1="265.66" x2="40.45" y2="265.66" stroke="#555" stroke-width="1"/>
<text x="34.45" y="269.56" font-size="10.0" text-anchor="end">9</text>
<line x1="37.45" y1="252.87" x2="39.05" y2="252.87" stroke="#555" stroke-width="1"/>
<line x1="37.45" y1="240.08" x2="40.45" y2="240.08" stroke="#555" stroke-width="1"/>
<text x="34.45" y="243.98" font-size="10.0" text-anchor="end">12</text>
<line x1="37.45" y1="227.29" x2="39.05" y2="227.29" stroke="#555" stroke-width="1"/>
<line x1="37.45" y1="214.50" x2="40.45" y2="214.50" stroke="#555" stroke-width="1"/>
<text x="34.45" y="218.40" font-size="10.0" text-anchor="end">15</text>
<text x="37.45" y="366.10" font-size="9.6" text-anchor="middle">Γ</text>
<text x="77.40" y="366.10" font-size="9.6" text-anchor="middle">X</text>
<text x="133.60" y="366.10" font-size="9.6" text-anchor="middle">M</text>
<text x="173.80" y="366.10" font-size="9.6" text-anchor="middle">Y</text>
<text x="230.10" y="366.10" font-size="9.6" text-anchor="middle">Γ</text>
<text transform="translate(13.15 283.90) rotate(-90)" font-size="11.4" text-anchor="middle">Frequency (THz)</text>
<text x="0.50" y="203.80" font-size="16.2" letter-spacing="0.25">(d) 11% shear strain</text>
<clipPath id="cpe"><rect x="282.50" y="213.50" width="192.90" height="142.70"/></clipPath>
<line x1="283" y1="342.5" x2="475" y2="342.5" stroke="#cacaca" stroke-width="1" stroke-dasharray="1 1"/>
<rect x="282.50" y="214.50" width="192.90" height="140.70" fill="none" stroke="#6e6e6e" stroke-width="1.4"/>
<g clip-path="url(#cpe)" fill="none" stroke="#ff3030" stroke-width="1.1" stroke-linejoin="round" stroke-linecap="round">
<path d="M282.50 220.60 C285.42 220.80 293.33 221.25 300.00 221.80 C306.67 222.35 318.75 223.55 322.50 223.90"/>
<path d="M322.50 223.90 C325.63 224.38 335.05 226.23 341.30 226.80 C347.55 227.37 353.75 227.22 360.00 227.30 C366.25 227.38 375.67 227.30 378.80 227.30"/>
<path d="M378.80 227.30 C381.73 227.42 389.65 227.65 396.40 228.00 C403.15 228.35 415.48 229.17 419.30 229.40"/>
<path d="M419.30 229.40 C422.30 229.23 430.88 229.32 437.30 228.40 C443.72 227.48 451.45 225.20 457.80 223.90 C464.15 222.60 472.47 221.15 475.40 220.60"/>
<path d="M282.50 226.90 C285.42 226.72 293.33 226.30 300.00 225.80 C306.67 225.30 318.75 224.22 322.50 223.90"/>
<path d="M322.50 223.90 C325.63 224.98 334.75 228.80 341.30 230.40 C347.85 232.00 355.55 232.82 361.80 233.50 C368.05 234.18 375.97 234.33 378.80 234.50"/>
<path d="M378.80 234.50 C381.73 234.33 391.42 234.02 396.40 233.50 C401.38 232.98 404.88 232.08 408.70 231.40 C412.52 230.72 417.53 229.73 419.30 229.40"/>
<path d="M419.30 229.40 C422.30 229.63 430.88 230.97 437.30 230.80 C443.72 230.63 451.45 229.05 457.80 228.40 C464.15 227.75 472.47 227.15 475.40 226.90"/>
<path d="M282.50 241.70 C285.42 241.80 293.33 241.87 300.00 242.30 C306.67 242.73 318.75 243.97 322.50 244.30"/>
<path d="M322.50 244.30 C325.63 244.17 335.05 243.75 341.30 243.50 C347.55 243.25 353.75 242.93 360.00 242.80 C366.25 242.67 375.67 242.72 378.80 242.70"/>
<path d="M378.80 242.70 C381.73 242.77 391.53 242.63 396.40 243.10 C401.27 243.57 404.18 244.55 408.00 245.50 C411.82 246.45 417.42 248.25 419.30 248.80"/>
<path d="M419.30 248.80 C422.30 248.28 430.88 246.72 437.30 245.70 C443.72 244.68 451.45 243.37 457.80 242.70 C464.15 242.03 472.47 241.87 475.40 241.70"/>
<path d="M282.50 245.10 C285.42 245.08 293.33 245.13 300.00 245.00 C306.67 244.87 318.75 244.42 322.50 244.30"/>
<path d="M322.50 244.30 C325.63 244.67 335.05 246.02 341.30 246.50 C347.55 246.98 353.75 247.08 360.00 247.20 C366.25 247.32 375.67 247.20 378.80 247.20"/>
<path d="M378.80 247.20 C381.73 247.23 389.65 247.13 396.40 247.40 C403.15 247.67 415.48 248.57 419.30 248.80"/>
<path d="M419.30 248.80 C422.30 248.97 430.88 250.13 437.30 249.80 C443.72 249.47 451.45 247.58 457.80 246.80 C464.15 246.02 472.47 245.38 475.40 245.10"/>
<path d="M282.50 260.50 C285.42 260.33 293.33 260.08 300.00 259.50 C306.67 258.92 318.75 257.42 322.50 257.00"/>
<path d="M322.50 257.00 C324.28 256.73 329.45 255.32 333.20 255.40 C336.95 255.48 340.23 256.55 345.00 257.50 C349.77 258.45 356.17 260.33 361.80 261.10 C367.43 261.87 375.97 261.93 378.80 262.10"/>
<path d="M378.80 262.10 C381.73 262.10 390.73 261.93 396.40 262.10 C402.07 262.27 408.98 262.77 412.80 263.10 C416.62 263.43 418.22 263.93 419.30 264.10"/>
<path d="M419.30 264.10 C422.30 264.28 430.88 265.43 437.30 265.20 C443.72 264.97 451.45 263.48 457.80 262.70 C464.15 261.92 472.47 260.87 475.40 260.50"/>
<path d="M282.50 261.30 C285.42 261.12 293.33 260.92 300.00 260.20 C306.67 259.48 318.75 257.53 322.50 257.00"/>
<path d="M322.50 257.00 C323.25 257.40 325.25 258.57 327.00 259.40 C328.75 260.23 331.15 261.17 333.00 262.00 C334.85 262.83 335.42 263.37 338.10 264.40 C340.78 265.43 345.43 267.20 349.10 268.20 C352.77 269.20 356.42 269.88 360.10 270.40 C363.78 270.92 368.08 271.08 371.20 271.30 C374.32 271.52 377.53 271.63 378.80 271.70"/>
<path d="M378.80 271.70 C381.73 271.63 390.73 272.05 396.40 271.30 C402.07 270.55 408.98 268.40 412.80 267.20 C416.62 266.00 418.22 264.62 419.30 264.10"/>
<path d="M419.30 264.10 C422.30 264.42 430.88 266.10 437.30 266.00 C443.72 265.90 451.45 264.28 457.80 263.50 C464.15 262.72 472.47 261.67 475.40 261.30"/>
<path d="M282.50 286.30 C284.58 285.92 290.30 284.62 295.00 284.00 C299.70 283.38 306.12 282.52 310.70 282.60 C315.28 282.68 320.53 284.18 322.50 284.50"/>
<path d="M322.50 284.50 C324.25 285.17 329.18 287.38 333.00 288.50 C336.82 289.62 341.23 291.12 345.40 291.20 C349.57 291.28 354.23 290.03 358.00 289.00 C361.77 287.97 364.53 286.10 368.00 285.00 C371.47 283.90 377.00 282.83 378.80 282.40"/>
<path d="M322.50 284.50 C324.08 284.17 328.87 283.00 332.00 282.50 C335.13 282.00 336.33 281.83 341.30 281.50 C346.27 281.17 355.55 280.38 361.80 280.50 C368.05 280.62 375.97 281.92 378.80 282.20"/>
<path d="M378.80 282.40 C380.63 281.95 385.67 280.53 389.80 279.70 C393.93 278.87 399.47 277.48 403.60 277.40 C407.73 277.32 411.98 278.37 414.60 279.20 C417.22 280.03 418.52 281.87 419.30 282.40"/>
<path d="M378.80 282.40 C380.63 282.57 386.37 282.55 389.80 283.40 C393.23 284.25 396.42 285.97 399.40 287.50 C402.38 289.03 405.43 290.93 407.70 292.60 C409.97 294.27 411.07 295.82 413.00 297.50 C414.93 299.18 418.25 301.83 419.30 302.70"/>
<path d="M419.30 282.40 C420.58 281.83 424.33 279.83 427.00 279.00 C429.67 278.17 431.97 277.23 435.30 277.40 C438.63 277.57 443.08 278.67 447.00 280.00 C450.92 281.33 455.47 284.27 458.80 285.40 C462.13 286.53 464.23 286.50 467.00 286.80 C469.77 287.10 474.00 287.13 475.40 287.20"/>
<path d="M419.30 282.40 C421.08 283.32 426.03 285.55 430.00 287.90 C433.97 290.25 439.47 293.53 443.10 296.50 C446.73 299.47 449.43 303.35 451.80 305.70 C454.17 308.05 455.48 309.28 457.30 310.60 C459.12 311.92 460.92 312.97 462.70 313.60 C464.48 314.23 465.88 314.20 468.00 314.40 C470.12 314.60 474.17 314.73 475.40 314.80"/>
<path d="M419.30 302.70 C421.25 302.33 427.18 301.42 431.00 300.50 C434.82 299.58 438.03 298.22 442.20 297.20 C446.37 296.18 452.03 294.52 456.00 294.40 C459.97 294.28 462.77 295.73 466.00 296.50 C469.23 297.27 473.83 298.58 475.40 299.00"/>
<path d="M419.30 302.70 C421.08 302.98 426.40 303.80 430.00 304.40 C433.60 305.00 437.27 305.27 440.90 306.30 C444.53 307.33 449.07 309.15 451.80 310.60 C454.53 312.05 455.72 313.43 457.30 315.00 C458.88 316.57 460.03 318.33 461.30 320.00 C462.57 321.67 463.62 323.08 464.90 325.00 C466.18 326.92 467.73 329.50 469.00 331.50 C470.27 333.50 471.43 335.18 472.50 337.00 C473.57 338.82 474.92 341.50 475.40 342.40"/>
<path d="M282.50 299.40 C283.35 299.58 285.52 299.82 287.60 300.50 C289.68 301.18 292.70 302.43 295.00 303.50 C297.30 304.57 298.82 305.20 301.40 306.90 C303.98 308.60 308.07 311.93 310.50 313.70 C312.93 315.47 313.98 316.28 316.00 317.50 C318.02 318.72 321.50 320.42 322.60 321.00"/>
<path d="M282.50 315.30 C283.75 315.00 287.87 314.27 290.00 313.50 C292.13 312.73 293.57 311.87 295.30 310.70 C297.03 309.53 298.88 308.28 300.40 306.50 C301.92 304.72 302.68 302.03 304.40 300.00 C306.12 297.97 308.77 296.13 310.70 294.30 C312.63 292.47 314.05 290.63 316.00 289.00 C317.95 287.37 321.33 285.25 322.40 284.50"/>
<path d="M282.50 342.40 C283.62 339.92 287.07 331.77 289.20 327.50 C291.33 323.23 293.02 319.15 295.30 316.80 C297.58 314.45 300.62 313.87 302.90 313.40 C305.18 312.93 306.82 313.32 309.00 314.00 C311.18 314.68 313.73 316.33 316.00 317.50 C318.27 318.67 321.50 320.42 322.60 321.00"/>
<path d="M282.50 342.40 C284.63 341.57 291.88 338.72 295.30 337.40 C298.72 336.08 300.47 335.65 303.00 334.50 C305.53 333.35 308.23 331.67 310.50 330.50 C312.77 329.33 314.58 328.55 316.60 327.50 C318.62 326.45 321.60 324.75 322.60 324.20"/>
<path d="M282.50 342.40 C283.62 343.10 286.57 345.47 289.20 346.60 C291.83 347.73 296.00 348.83 298.30 349.20 C300.60 349.57 301.85 349.12 303.00 348.80 C304.15 348.48 304.45 348.32 305.20 347.30 C305.95 346.28 306.62 344.73 307.50 342.70 C308.38 340.67 308.98 337.48 310.50 335.10 C312.02 332.72 314.58 330.22 316.60 328.40 C318.62 326.58 321.60 324.90 322.60 324.20"/>
<path d="M322.60 321.00 C323.97 319.77 328.00 316.23 330.80 313.60 C333.60 310.97 336.68 307.08 339.40 305.20 C342.12 303.32 344.53 302.43 347.10 302.30 C349.67 302.17 351.82 303.05 354.80 304.40 C357.78 305.75 361.02 308.97 365.00 310.40 C368.98 311.83 376.42 312.57 378.70 313.00"/>
<path d="M322.60 321.00 C324.68 320.60 330.17 319.58 335.10 318.60 C340.03 317.62 347.07 316.32 352.20 315.10 C357.33 313.88 361.48 312.08 365.90 311.30 C370.32 310.52 376.57 310.55 378.70 310.40"/>
<path d="M322.60 324.20 C323.93 323.92 328.52 322.80 330.60 322.50 C332.68 322.20 332.70 322.25 335.10 322.40 C337.50 322.55 342.15 323.18 345.00 323.40 C347.85 323.62 348.72 324.02 352.20 323.70 C355.68 323.38 361.48 322.15 365.90 321.50 C370.32 320.85 376.57 320.08 378.70 319.80"/>
<path d="M322.60 324.20 C323.17 324.50 324.63 325.65 326.00 326.00 C327.37 326.35 328.97 326.72 330.80 326.30 C332.63 325.88 334.85 324.58 337.00 323.50 C339.15 322.42 341.17 320.70 343.70 319.80 C346.23 318.90 348.65 318.10 352.20 318.10 C355.75 318.10 360.58 319.40 365.00 319.80 C369.42 320.20 376.42 320.38 378.70 320.50"/>
<path d="M378.80 310.60 C380.38 310.43 385.10 311.03 388.30 309.60 C391.50 308.17 394.93 304.55 398.00 302.00 C401.07 299.45 404.20 296.63 406.70 294.30 C409.20 291.97 410.90 289.98 413.00 288.00 C415.10 286.02 418.25 283.33 419.30 282.40"/>
<path d="M378.80 312.90 C380.33 312.75 385.07 312.32 388.00 312.00 C390.93 311.68 393.28 310.55 396.40 311.00 C399.52 311.45 403.93 313.28 406.70 314.70 C409.47 316.12 410.90 317.72 413.00 319.50 C415.10 321.28 418.25 324.42 419.30 325.40"/>
<path d="M378.80 319.80 C380.33 319.83 385.07 319.97 388.00 320.00 C390.93 320.03 394.07 320.25 396.40 320.00 C398.73 319.75 400.28 319.17 402.00 318.50 C403.72 317.83 404.87 317.58 406.70 316.00 C408.53 314.42 410.90 311.22 413.00 309.00 C415.10 306.78 418.25 303.75 419.30 302.70"/>
<path d="M378.80 320.50 C380.67 320.75 387.07 321.42 390.00 322.00 C392.93 322.58 394.23 322.75 396.40 324.00 C398.57 325.25 400.95 328.15 403.00 329.50 C405.05 330.85 406.87 332.02 408.70 332.10 C410.53 332.18 412.23 331.12 414.00 330.00 C415.77 328.88 418.42 326.17 419.30 325.40"/>
<path d="M419.30 325.40 C422.08 325.45 431.85 325.78 436.00 325.70 C440.15 325.62 441.48 324.62 444.20 324.90 C446.92 325.18 449.58 326.17 452.30 327.40 C455.02 328.63 457.77 330.53 460.50 332.30 C463.23 334.07 466.22 336.32 468.70 338.00 C471.18 339.68 474.28 341.67 475.40 342.40"/>
<path d="M419.30 325.40 C422.08 325.65 431.85 326.30 436.00 326.90 C440.15 327.50 441.48 327.97 444.20 329.00 C446.92 330.03 449.58 331.67 452.30 333.10 C455.02 334.53 458.05 336.10 460.50 337.60 C462.95 339.10 465.50 341.13 467.00 342.10 C468.50 343.07 468.67 343.17 469.50 343.40 C470.33 343.63 471.02 343.67 472.00 343.50 C472.98 343.33 474.83 342.58 475.40 342.40"/>
</g>
<line x1="322.50" y1="214.50" x2="322.50" y2="355.20" stroke="#9c9c9c" stroke-width="1.2" style="mix-blend-mode:multiply"/>
<line x1="378.80" y1="214.50" x2="378.80" y2="355.20" stroke="#9c9c9c" stroke-width="1.2" style="mix-blend-mode:multiply"/>
<line x1="419.30" y1="214.50" x2="419.30" y2="355.20" stroke="#9c9c9c" stroke-width="1.2" style="mix-blend-mode:multiply"/>
<line x1="282.50" y1="342.40" x2="285.50" y2="342.40" stroke="#555" stroke-width="1"/>
<text x="279.50" y="346.30" font-size="10.0" text-anchor="end">0</text>
<line x1="282.50" y1="329.61" x2="284.10" y2="329.61" stroke="#555" stroke-width="1"/>
<line x1="282.50" y1="316.82" x2="285.50" y2="316.82" stroke="#555" stroke-width="1"/>
<text x="279.50" y="320.72" font-size="10.0" text-anchor="end">3</text>
<line x1="282.50" y1="304.03" x2="284.10" y2="304.03" stroke="#555" stroke-width="1"/>
<line x1="282.50" y1="291.24" x2="285.50" y2="291.24" stroke="#555" stroke-width="1"/>
<text x="279.50" y="295.14" font-size="10.0" text-anchor="end">6</text>
<line x1="282.50" y1="278.45" x2="284.10" y2="278.45" stroke="#555" stroke-width="1"/>
<line x1="282.50" y1="265.66" x2="285.50" y2="265.66" stroke="#555" stroke-width="1"/>
<text x="279.50" y="269.56" font-size="10.0" text-anchor="end">9</text>
<line x1="282.50" y1="252.87" x2="284.10" y2="252.87" stroke="#555" stroke-width="1"/>
<line x1="282.50" y1="240.08" x2="285.50" y2="240.08" stroke="#555" stroke-width="1"/>
<text x="279.50" y="243.98" font-size="10.0" text-anchor="end">12</text>
<line x1="282.50" y1="227.29" x2="284.10" y2="227.29" stroke="#555" stroke-width="1"/>
<line x1="282.50" y1="214.50" x2="285.50" y2="214.50" stroke="#555" stroke-width="1"/>
<text x="279.50" y="218.40" font-size="10.0" text-anchor="end">15</text>
<text x="282.50" y="366.10" font-size="9.6" text-anchor="middle">Γ</text>
<text x="322.50" y="366.10" font-size="9.6" text-anchor="middle">X</text>
<text x="378.80" y="366.10" font-size="9.6" text-anchor="middle">M</text>
<text x="419.30" y="366.10" font-size="9.6" text-anchor="middle">Y</text>
<text x="475.40" y="366.10" font-size="9.6" text-anchor="middle">Γ</text>
<text transform="translate(258.20 283.90) rotate(-90)" font-size="11.4" text-anchor="middle">Frequency (THz)</text>
<text x="245.00" y="203.80" font-size="16.2" letter-spacing="0.25">(e) 15% shear strain</text>
<clipPath id="cpf"><rect x="526.60" y="213.50" width="192.80" height="142.70"/></clipPath>
<line x1="527" y1="342.5" x2="719" y2="342.5" stroke="#cacaca" stroke-width="1" stroke-dasharray="1 1"/>
<rect x="526.60" y="214.50" width="192.80" height="140.70" fill="none" stroke="#6e6e6e" stroke-width="1.4"/>
<g clip-path="url(#cpf)" fill="none" stroke="#ff3030" stroke-width="1.1" stroke-linejoin="round" stroke-linecap="round">
<path d="M526.60 221.60 C529.67 221.80 538.32 222.18 545.00 222.80 C551.68 223.42 563.08 224.88 566.70 225.30"/>
<path d="M566.70 225.30 C569.80 225.75 578.92 227.50 585.30 228.00 C591.68 228.50 598.73 228.23 605.00 228.30 C611.27 228.37 619.92 228.38 622.90 228.40"/>
<path d="M622.90 228.40 C625.82 228.43 633.67 228.43 640.40 228.60 C647.13 228.77 659.48 229.27 663.30 229.40"/>
<path d="M663.30 229.40 C666.42 229.20 675.58 228.98 682.00 228.20 C688.42 227.42 695.57 225.80 701.80 224.70 C708.03 223.60 716.47 222.12 719.40 221.60"/>
<path d="M526.60 228.40 C529.67 228.22 538.32 227.82 545.00 227.30 C551.68 226.78 563.08 225.63 566.70 225.30"/>
<path d="M566.70 225.30 C569.80 226.32 578.78 229.87 585.30 231.40 C591.82 232.93 599.53 233.72 605.80 234.50 C612.07 235.28 620.05 235.83 622.90 236.10"/>
<path d="M622.90 236.10 C625.82 235.83 635.55 235.18 640.40 234.50 C645.25 233.82 648.18 232.85 652.00 232.00 C655.82 231.15 661.42 229.83 663.30 229.40"/>
<path d="M663.30 229.40 C666.42 229.67 675.58 230.90 682.00 231.00 C688.42 231.10 695.57 230.43 701.80 230.00 C708.03 229.57 716.47 228.67 719.40 228.40"/>
<path d="M526.60 242.70 C529.67 242.83 538.32 243.00 545.00 243.50 C551.68 244.00 563.08 245.33 566.70 245.70"/>
<path d="M566.70 245.70 C569.80 245.37 578.92 244.12 585.30 243.70 C591.68 243.28 598.73 243.30 605.00 243.20 C611.27 243.10 619.92 243.12 622.90 243.10"/>
<path d="M622.90 243.10 C625.82 243.30 635.55 243.65 640.40 244.30 C645.25 244.95 648.18 246.02 652.00 247.00 C655.82 247.98 661.42 249.67 663.30 250.20"/>
<path d="M663.30 250.20 C666.30 249.45 674.88 246.88 681.30 245.70 C687.72 244.52 695.45 243.60 701.80 243.10 C708.15 242.60 716.47 242.77 719.40 242.70"/>
<path d="M526.60 246.40 C529.67 246.40 538.32 246.52 545.00 246.40 C551.68 246.28 563.08 245.82 566.70 245.70"/>
<path d="M566.70 245.70 C569.80 246.05 578.92 247.30 585.30 247.80 C591.68 248.30 598.73 248.53 605.00 248.70 C611.27 248.87 619.92 248.78 622.90 248.80"/>
<path d="M622.90 248.80 C625.82 248.80 633.67 248.57 640.40 248.80 C647.13 249.03 659.48 249.97 663.30 250.20"/>
<path d="M663.30 250.20 C666.30 250.38 674.88 251.70 681.30 251.30 C687.72 250.90 695.45 248.62 701.80 247.80 C708.15 246.98 716.47 246.63 719.40 246.40"/>
<path d="M526.60 261.70 C529.67 261.52 538.32 261.12 545.00 260.60 C551.68 260.08 563.08 258.93 566.70 258.60"/>
<path d="M566.70 258.60 C568.50 258.40 574.45 257.33 577.50 257.40 C580.55 257.47 582.42 258.32 585.00 259.00 C587.58 259.68 589.83 260.73 593.00 261.50 C596.17 262.27 600.83 263.17 604.00 263.60 C607.17 264.03 608.85 264.02 612.00 264.10 C615.15 264.18 621.08 264.10 622.90 264.10"/>
<path d="M622.90 264.10 C625.82 264.10 635.55 263.98 640.40 264.10 C645.25 264.22 648.18 264.52 652.00 264.80 C655.82 265.08 661.42 265.63 663.30 265.80"/>
<path d="M663.30 265.80 C666.30 265.70 674.88 265.82 681.30 265.20 C687.72 264.58 695.45 262.68 701.80 262.10 C708.15 261.52 716.47 261.77 719.40 261.70"/>
<path d="M526.60 263.10 C529.67 262.88 538.32 262.55 545.00 261.80 C551.68 261.05 563.08 259.13 566.70 258.60"/>
<path d="M566.70 258.60 C567.42 258.83 569.45 259.32 571.00 260.00 C572.55 260.68 574.15 261.78 576.00 262.70 C577.85 263.62 579.25 264.40 582.10 265.50 C584.95 266.60 589.43 268.20 593.10 269.30 C596.77 270.40 600.95 271.48 604.10 272.10 C607.25 272.72 608.87 272.80 612.00 273.00 C615.13 273.20 621.08 273.25 622.90 273.30"/>
<path d="M622.90 273.30 C625.82 273.13 635.55 273.02 640.40 272.30 C645.25 271.58 648.18 270.08 652.00 269.00 C655.82 267.92 661.42 266.33 663.30 265.80"/>
<path d="M663.30 265.80 C666.30 265.92 674.88 266.93 681.30 266.50 C687.72 266.07 695.45 263.77 701.80 263.20 C708.15 262.63 716.47 263.12 719.40 263.10"/>
<path d="M526.60 287.10 C528.83 286.58 535.32 284.93 540.00 284.00 C544.68 283.07 550.25 281.63 554.70 281.50 C559.15 281.37 564.70 282.92 566.70 283.20"/>
<path d="M566.70 283.20 C568.58 283.92 574.22 286.17 578.00 287.50 C581.78 288.83 585.40 290.95 589.40 291.20 C593.40 291.45 598.23 289.95 602.00 289.00 C605.77 288.05 608.52 286.47 612.00 285.50 C615.48 284.53 621.08 283.58 622.90 283.20"/>
<path d="M566.70 283.20 C568.25 282.97 572.90 282.15 576.00 281.80 C579.10 281.45 580.47 281.32 585.30 281.10 C590.13 280.88 598.73 280.15 605.00 280.50 C611.27 280.85 619.92 282.75 622.90 283.20"/>
<path d="M622.90 283.20 C624.92 282.58 630.72 280.40 635.00 279.50 C639.28 278.60 644.93 277.80 648.60 277.80 C652.27 277.80 654.55 278.73 657.00 279.50 C659.45 280.27 662.25 281.92 663.30 282.40"/>
<path d="M622.90 283.20 C625.82 283.68 635.77 284.60 640.40 286.10 C645.03 287.60 647.93 290.22 650.70 292.20 C653.47 294.18 654.90 296.02 657.00 298.00 C659.10 299.98 662.25 303.08 663.30 304.10"/>
<path d="M663.30 282.40 C664.58 281.83 668.33 279.77 671.00 279.00 C673.67 278.23 675.87 277.47 679.30 277.80 C682.73 278.13 687.17 279.62 691.60 281.00 C696.03 282.38 701.27 285.08 705.90 286.10 C710.53 287.12 717.15 286.93 719.40 287.10"/>
<path d="M663.30 282.40 C665.08 283.38 670.03 285.78 674.00 288.30 C677.97 290.82 683.47 294.60 687.10 297.50 C690.73 300.40 693.25 303.23 695.80 305.70 C698.35 308.17 700.03 310.75 702.40 312.30 C704.77 313.85 707.17 314.40 710.00 315.00 C712.83 315.60 717.83 315.75 719.40 315.90"/>
<path d="M663.30 304.10 C664.75 303.75 669.00 302.78 672.00 302.00 C675.00 301.22 677.02 300.28 681.30 299.40 C685.58 298.52 693.25 296.85 697.70 296.70 C702.15 296.55 704.38 297.88 708.00 298.50 C711.62 299.12 717.50 300.08 719.40 300.40"/>
<path d="M663.30 304.10 C665.08 304.28 670.40 304.83 674.00 305.20 C677.60 305.57 681.27 305.30 684.90 306.30 C688.53 307.30 692.88 309.48 695.80 311.20 C698.72 312.92 700.82 315.13 702.40 316.60 C703.98 318.07 704.22 318.60 705.30 320.00 C706.38 321.40 707.73 323.25 708.90 325.00 C710.07 326.75 711.18 328.62 712.30 330.50 C713.42 332.38 714.42 334.32 715.60 336.30 C716.78 338.28 718.77 341.38 719.40 342.40"/>
<path d="M526.60 300.40 C528.00 300.83 532.03 301.80 535.00 303.00 C537.97 304.20 541.12 305.65 544.40 307.60 C547.68 309.55 552.10 312.88 554.70 314.70 C557.30 316.52 558.00 317.25 560.00 318.50 C562.00 319.75 565.58 321.58 566.70 322.20"/>
<path d="M526.60 315.70 C528.00 315.42 532.03 314.85 535.00 314.00 C537.97 313.15 541.90 312.10 544.40 310.60 C546.90 309.10 548.28 307.03 550.00 305.00 C551.72 302.97 553.03 300.73 554.70 298.40 C556.37 296.07 558.00 293.53 560.00 291.00 C562.00 288.47 565.58 284.50 566.70 283.20"/>
<path d="M526.60 342.40 C527.33 340.50 529.38 334.58 531.00 331.00 C532.62 327.42 534.07 323.78 536.30 320.90 C538.53 318.02 541.68 314.90 544.40 313.70 C547.12 312.50 549.87 313.02 552.60 313.70 C555.33 314.38 558.45 316.38 560.80 317.80 C563.15 319.22 565.72 321.47 566.70 322.20"/>
<path d="M526.60 342.40 C528.00 342.00 532.03 340.87 535.00 340.00 C537.97 339.13 541.57 338.20 544.40 337.20 C547.23 336.20 549.60 335.02 552.00 334.00 C554.40 332.98 556.35 332.35 558.80 331.10 C561.25 329.85 565.38 327.27 566.70 326.50"/>
<path d="M526.60 342.40 C527.87 343.07 531.23 345.15 534.20 346.40 C537.17 347.65 541.33 349.45 544.40 349.90 C547.47 350.35 550.72 350.18 552.60 349.10 C554.48 348.02 554.85 345.72 555.70 343.40 C556.55 341.08 556.50 337.52 557.70 335.20 C558.90 332.88 561.40 330.95 562.90 329.50 C564.40 328.05 566.07 327.00 566.70 326.50"/>
<path d="M566.70 322.20 C568.08 320.83 572.12 316.70 575.00 314.00 C577.88 311.30 581.25 307.82 584.00 306.00 C586.75 304.18 588.83 303.18 591.50 303.10 C594.17 303.02 596.93 304.25 600.00 305.50 C603.07 306.75 606.08 309.23 609.90 310.60 C613.72 311.97 620.73 313.18 622.90 313.70"/>
<path d="M566.70 322.20 C568.08 321.72 571.90 320.20 575.00 319.30 C578.10 318.40 581.47 317.60 585.30 316.80 C589.13 316.00 593.90 315.25 598.00 314.50 C602.10 313.75 605.75 312.95 609.90 312.30 C614.05 311.65 620.73 310.88 622.90 310.60"/>
<path d="M566.70 326.50 C567.25 326.80 568.68 327.92 570.00 328.30 C571.32 328.68 572.47 329.40 574.60 328.80 C576.73 328.20 580.35 326.13 582.80 324.70 C585.25 323.27 587.17 321.08 589.30 320.20 C591.43 319.32 592.17 319.28 595.60 319.40 C599.03 319.52 605.35 320.72 609.90 320.90 C614.45 321.08 620.73 320.57 622.90 320.50"/>
<path d="M566.70 326.50 C567.07 326.13 567.58 324.85 568.90 324.30 C570.22 323.75 572.75 323.33 574.60 323.20 C576.45 323.07 577.55 323.18 580.00 323.50 C582.45 323.82 586.47 325.10 589.30 325.10 C592.13 325.10 593.57 324.03 597.00 323.50 C600.43 322.97 605.58 322.20 609.90 321.90 C614.22 321.60 620.73 321.73 622.90 321.70"/>
<path d="M622.90 309.80 C624.72 309.75 630.60 309.38 633.80 309.50 C637.00 309.62 639.33 309.75 642.10 310.50 C644.87 311.25 648.08 312.42 650.40 314.00 C652.72 315.58 654.40 318.25 656.00 320.00 C657.60 321.75 658.78 323.10 660.00 324.50 C661.22 325.90 662.75 327.75 663.30 328.40"/>
<path d="M622.90 313.60 C624.13 313.60 627.92 314.28 630.30 313.60 C632.68 312.92 634.90 311.45 637.20 309.50 C639.50 307.55 641.80 304.32 644.10 301.90 C646.40 299.48 648.85 297.23 651.00 295.00 C653.15 292.77 654.95 290.60 657.00 288.50 C659.05 286.40 662.25 283.42 663.30 282.40"/>
<path d="M622.90 320.50 C624.65 320.67 629.90 321.87 633.40 321.50 C636.90 321.13 641.07 319.55 643.90 318.30 C646.73 317.05 648.22 315.55 650.40 314.00 C652.58 312.45 654.85 310.65 657.00 309.00 C659.15 307.35 662.25 304.92 663.30 304.10"/>
<path d="M622.90 321.70 C624.65 321.73 630.38 320.63 633.40 321.90 C636.42 323.17 638.78 326.78 641.00 329.30 C643.22 331.82 645.43 334.45 646.70 337.00 C647.97 339.55 647.65 342.70 648.60 344.60 C649.55 346.50 651.20 348.57 652.40 348.40 C653.60 348.23 654.83 345.67 655.80 343.60 C656.77 341.53 656.95 338.53 658.20 336.00 C659.45 333.47 662.45 329.67 663.30 328.40"/>
<path d="M663.30 328.40 C666.30 328.43 676.88 328.70 681.30 328.60 C685.72 328.50 687.30 327.73 689.80 327.80 C692.30 327.87 693.85 328.05 696.30 329.00 C698.75 329.95 701.77 331.93 704.50 333.50 C707.23 335.07 710.22 336.92 712.70 338.40 C715.18 339.88 718.28 341.73 719.40 342.40"/>
<path d="M663.30 328.40 C666.30 328.58 677.15 329.27 681.30 329.50 C685.45 329.73 685.70 329.13 688.20 329.80 C690.70 330.47 693.58 332.00 696.30 333.50 C699.02 335.00 702.45 337.30 704.50 338.80 C706.55 340.30 707.60 341.63 708.60 342.50 C709.60 343.37 709.42 343.80 710.50 344.00 C711.58 344.20 713.62 343.97 715.10 343.70 C716.58 343.43 718.68 342.62 719.40 342.40"/>
</g>
<line x1="566.70" y1="214.50" x2="566.70" y2="355.20" stroke="#9c9c9c" stroke-width="1.2" style="mix-blend-mode:multiply"/>
<line x1="622.90" y1="214.50" x2="622.90" y2="355.20" stroke="#9c9c9c" stroke-width="1.2" style="mix-blend-mode:multiply"/>
<line x1="663.30" y1="214.50" x2="663.30" y2="355.20" stroke="#9c9c9c" stroke-width="1.2" style="mix-blend-mode:multiply"/>
<line x1="526.60" y1="342.40" x2="529.60" y2="342.40" stroke="#555" stroke-width="1"/>
<text x="523.60" y="346.30" font-size="10.0" text-anchor="end">0</text>
<line x1="526.60" y1="329.61" x2="528.20" y2="329.61" stroke="#555" stroke-width="1"/>
<line x1="526.60" y1="316.82" x2="529.60" y2="316.82" stroke="#555" stroke-width="1"/>
<text x="523.60" y="320.72" font-size="10.0" text-anchor="end">3</text>
<line x1="526.60" y1="304.03" x2="528.20" y2="304.03" stroke="#555" stroke-width="1"/>
<line x1="526.60" y1="291.24" x2="529.60" y2="291.24" stroke="#555" stroke-width="1"/>
<text x="523.60" y="295.14" font-size="10.0" text-anchor="end">6</text>
<line x1="526.60" y1="278.45" x2="528.20" y2="278.45" stroke="#555" stroke-width="1"/>
<line x1="526.60" y1="265.66" x2="529.60" y2="265.66" stroke="#555" stroke-width="1"/>
<text x="523.60" y="269.56" font-size="10.0" text-anchor="end">9</text>
<line x1="526.60" y1="252.87" x2="528.20" y2="252.87" stroke="#555" stroke-width="1"/>
<line x1="526.60" y1="240.08" x2="529.60" y2="240.08" stroke="#555" stroke-width="1"/>
<text x="523.60" y="243.98" font-size="10.0" text-anchor="end">12</text>
<line x1="526.60" y1="227.29" x2="528.20" y2="227.29" stroke="#555" stroke-width="1"/>
<line x1="526.60" y1="214.50" x2="529.60" y2="214.50" stroke="#555" stroke-width="1"/>
<text x="523.60" y="218.40" font-size="10.0" text-anchor="end">15</text>
<text x="526.60" y="366.10" font-size="9.6" text-anchor="middle">Γ</text>
<text x="566.70" y="366.10" font-size="9.6" text-anchor="middle">X</text>
<text x="622.90" y="366.10" font-size="9.6" text-anchor="middle">M</text>
<text x="663.30" y="366.10" font-size="9.6" text-anchor="middle">Y</text>
<text x="719.40" y="366.10" font-size="9.6" text-anchor="middle">Γ</text>
<text transform="translate(502.30 283.90) rotate(-90)" font-size="11.4" text-anchor="middle">Frequency (THz)</text>
<text x="488.30" y="203.80" font-size="16.2" letter-spacing="0.25">(f) 16% shear strain</text>
</svg>
</body></html>
